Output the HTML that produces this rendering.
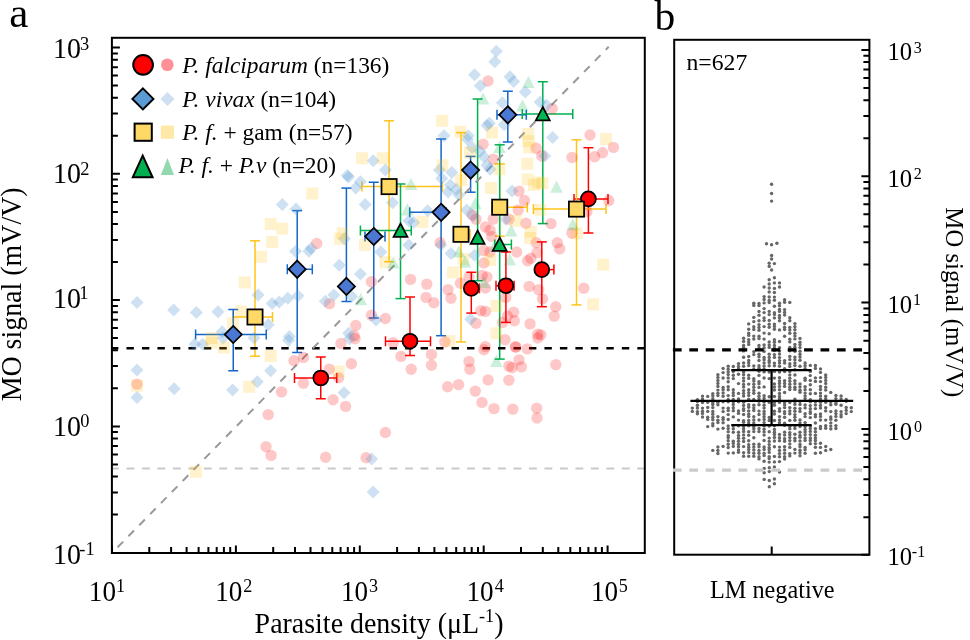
<!DOCTYPE html>
<html><head><meta charset="utf-8"><style>html,body{margin:0;padding:0;background:#fff;width:970px;height:640px;overflow:hidden}</style></head>
<body><svg width="970" height="640" viewBox="0 0 970 640" style="position:absolute;left:0;top:0;will-change:transform"><rect width="970" height="640" fill="#fff"/><defs><clipPath id="ca"><rect x="111.9" y="37.8" width="532.9" height="515.2"/></clipPath></defs><line x1="320.75" y1="357" x2="320.75" y2="398.75" stroke="#ff0000" stroke-width="1.5"/><line x1="315.75" y1="357" x2="325.75" y2="357" stroke="#ff0000" stroke-width="1.5"/><line x1="315.75" y1="398.75" x2="325.75" y2="398.75" stroke="#ff0000" stroke-width="1.5"/><line x1="294.5" y1="378" x2="336.75" y2="378" stroke="#ff0000" stroke-width="1.5"/><line x1="294.5" y1="373.0" x2="294.5" y2="383.0" stroke="#ff0000" stroke-width="1.5"/><line x1="336.75" y1="373.0" x2="336.75" y2="383.0" stroke="#ff0000" stroke-width="1.5"/><line x1="410" y1="297" x2="410" y2="355.5" stroke="#ff0000" stroke-width="1.5"/><line x1="405.0" y1="297" x2="415.0" y2="297" stroke="#ff0000" stroke-width="1.5"/><line x1="405.0" y1="355.5" x2="415.0" y2="355.5" stroke="#ff0000" stroke-width="1.5"/><line x1="385.5" y1="341.25" x2="430.5" y2="341.25" stroke="#ff0000" stroke-width="1.5"/><line x1="385.5" y1="336.25" x2="385.5" y2="346.25" stroke="#ff0000" stroke-width="1.5"/><line x1="430.5" y1="336.25" x2="430.5" y2="346.25" stroke="#ff0000" stroke-width="1.5"/><line x1="471.3" y1="272.3" x2="471.3" y2="313.1" stroke="#ff0000" stroke-width="1.5"/><line x1="466.3" y1="272.3" x2="476.3" y2="272.3" stroke="#ff0000" stroke-width="1.5"/><line x1="466.3" y1="313.1" x2="476.3" y2="313.1" stroke="#ff0000" stroke-width="1.5"/><line x1="467" y1="288.4" x2="479.4" y2="288.4" stroke="#ff0000" stroke-width="1.5"/><line x1="467" y1="283.4" x2="467" y2="293.4" stroke="#ff0000" stroke-width="1.5"/><line x1="479.4" y1="283.4" x2="479.4" y2="293.4" stroke="#ff0000" stroke-width="1.5"/><line x1="505.9" y1="252" x2="505.9" y2="322.4" stroke="#ff0000" stroke-width="1.5"/><line x1="500.9" y1="252" x2="510.9" y2="252" stroke="#ff0000" stroke-width="1.5"/><line x1="500.9" y1="322.4" x2="510.9" y2="322.4" stroke="#ff0000" stroke-width="1.5"/><line x1="496" y1="285.7" x2="514.1" y2="285.7" stroke="#ff0000" stroke-width="1.5"/><line x1="496" y1="280.7" x2="496" y2="290.7" stroke="#ff0000" stroke-width="1.5"/><line x1="514.1" y1="280.7" x2="514.1" y2="290.7" stroke="#ff0000" stroke-width="1.5"/><line x1="541.8" y1="241.9" x2="541.8" y2="306.7" stroke="#ff0000" stroke-width="1.5"/><line x1="536.8" y1="241.9" x2="546.8" y2="241.9" stroke="#ff0000" stroke-width="1.5"/><line x1="536.8" y1="306.7" x2="546.8" y2="306.7" stroke="#ff0000" stroke-width="1.5"/><line x1="537" y1="269.6" x2="553.9" y2="269.6" stroke="#ff0000" stroke-width="1.5"/><line x1="537" y1="264.6" x2="537" y2="274.6" stroke="#ff0000" stroke-width="1.5"/><line x1="553.9" y1="264.6" x2="553.9" y2="274.6" stroke="#ff0000" stroke-width="1.5"/><line x1="588.4" y1="147.7" x2="588.4" y2="233" stroke="#ff0000" stroke-width="1.5"/><line x1="583.4" y1="147.7" x2="593.4" y2="147.7" stroke="#ff0000" stroke-width="1.5"/><line x1="583.4" y1="233" x2="593.4" y2="233" stroke="#ff0000" stroke-width="1.5"/><line x1="574" y1="198.9" x2="608" y2="198.9" stroke="#ff0000" stroke-width="1.5"/><line x1="574" y1="193.9" x2="574" y2="203.9" stroke="#ff0000" stroke-width="1.5"/><line x1="608" y1="193.9" x2="608" y2="203.9" stroke="#ff0000" stroke-width="1.5"/><line x1="255" y1="240.8" x2="255" y2="356.25" stroke="#ffc31a" stroke-width="1.5"/><line x1="250.0" y1="240.8" x2="260.0" y2="240.8" stroke="#ffc31a" stroke-width="1.5"/><line x1="250.0" y1="356.25" x2="260.0" y2="356.25" stroke="#ffc31a" stroke-width="1.5"/><line x1="233.3" y1="317" x2="272.5" y2="317" stroke="#ffc31a" stroke-width="1.5"/><line x1="233.3" y1="312.0" x2="233.3" y2="322.0" stroke="#ffc31a" stroke-width="1.5"/><line x1="272.5" y1="312.0" x2="272.5" y2="322.0" stroke="#ffc31a" stroke-width="1.5"/><line x1="389.1" y1="120.8" x2="389.1" y2="261.75" stroke="#ffc31a" stroke-width="1.5"/><line x1="384.1" y1="120.8" x2="394.1" y2="120.8" stroke="#ffc31a" stroke-width="1.5"/><line x1="384.1" y1="261.75" x2="394.1" y2="261.75" stroke="#ffc31a" stroke-width="1.5"/><line x1="361.9" y1="186.6" x2="442.3" y2="186.6" stroke="#ffc31a" stroke-width="1.5"/><line x1="361.9" y1="181.6" x2="361.9" y2="191.6" stroke="#ffc31a" stroke-width="1.5"/><line x1="442.3" y1="181.6" x2="442.3" y2="191.6" stroke="#ffc31a" stroke-width="1.5"/><line x1="461" y1="132.6" x2="461" y2="341.9" stroke="#ffc31a" stroke-width="1.5"/><line x1="456.0" y1="132.6" x2="466.0" y2="132.6" stroke="#ffc31a" stroke-width="1.5"/><line x1="456.0" y1="341.9" x2="466.0" y2="341.9" stroke="#ffc31a" stroke-width="1.5"/><line x1="455" y1="234.25" x2="470" y2="234.25" stroke="#ffc31a" stroke-width="1.5"/><line x1="455" y1="229.25" x2="455" y2="239.25" stroke="#ffc31a" stroke-width="1.5"/><line x1="470" y1="229.25" x2="470" y2="239.25" stroke="#ffc31a" stroke-width="1.5"/><line x1="499.7" y1="163.9" x2="499.7" y2="236.2" stroke="#ffc31a" stroke-width="1.5"/><line x1="494.7" y1="163.9" x2="504.7" y2="163.9" stroke="#ffc31a" stroke-width="1.5"/><line x1="494.7" y1="236.2" x2="504.7" y2="236.2" stroke="#ffc31a" stroke-width="1.5"/><line x1="492" y1="207.2" x2="527.3" y2="207.2" stroke="#ffc31a" stroke-width="1.5"/><line x1="492" y1="202.2" x2="492" y2="212.2" stroke="#ffc31a" stroke-width="1.5"/><line x1="527.3" y1="202.2" x2="527.3" y2="212.2" stroke="#ffc31a" stroke-width="1.5"/><line x1="576.5" y1="139.8" x2="576.5" y2="304.9" stroke="#ffc31a" stroke-width="1.5"/><line x1="571.5" y1="139.8" x2="581.5" y2="139.8" stroke="#ffc31a" stroke-width="1.5"/><line x1="571.5" y1="304.9" x2="581.5" y2="304.9" stroke="#ffc31a" stroke-width="1.5"/><line x1="533.4" y1="209.1" x2="606" y2="209.1" stroke="#ffc31a" stroke-width="1.5"/><line x1="533.4" y1="204.1" x2="533.4" y2="214.1" stroke="#ffc31a" stroke-width="1.5"/><line x1="606" y1="204.1" x2="606" y2="214.1" stroke="#ffc31a" stroke-width="1.5"/><line x1="233.25" y1="309.5" x2="233.25" y2="370.75" stroke="#1466c8" stroke-width="1.5"/><line x1="228.25" y1="309.5" x2="238.25" y2="309.5" stroke="#1466c8" stroke-width="1.5"/><line x1="228.25" y1="370.75" x2="238.25" y2="370.75" stroke="#1466c8" stroke-width="1.5"/><line x1="195.6" y1="334.5" x2="266.25" y2="334.5" stroke="#1466c8" stroke-width="1.5"/><line x1="195.6" y1="329.5" x2="195.6" y2="339.5" stroke="#1466c8" stroke-width="1.5"/><line x1="266.25" y1="329.5" x2="266.25" y2="339.5" stroke="#1466c8" stroke-width="1.5"/><line x1="297.2" y1="210.6" x2="297.2" y2="352.5" stroke="#1466c8" stroke-width="1.5"/><line x1="292.2" y1="210.6" x2="302.2" y2="210.6" stroke="#1466c8" stroke-width="1.5"/><line x1="292.2" y1="352.5" x2="302.2" y2="352.5" stroke="#1466c8" stroke-width="1.5"/><line x1="287.3" y1="269.25" x2="312.3" y2="269.25" stroke="#1466c8" stroke-width="1.5"/><line x1="287.3" y1="264.25" x2="287.3" y2="274.25" stroke="#1466c8" stroke-width="1.5"/><line x1="312.3" y1="264.25" x2="312.3" y2="274.25" stroke="#1466c8" stroke-width="1.5"/><line x1="346.4" y1="188.1" x2="346.4" y2="301.5" stroke="#1466c8" stroke-width="1.5"/><line x1="341.4" y1="188.1" x2="351.4" y2="188.1" stroke="#1466c8" stroke-width="1.5"/><line x1="341.4" y1="301.5" x2="351.4" y2="301.5" stroke="#1466c8" stroke-width="1.5"/><line x1="373.75" y1="182.25" x2="373.75" y2="318" stroke="#1466c8" stroke-width="1.5"/><line x1="368.75" y1="182.25" x2="378.75" y2="182.25" stroke="#1466c8" stroke-width="1.5"/><line x1="368.75" y1="318" x2="378.75" y2="318" stroke="#1466c8" stroke-width="1.5"/><line x1="365" y1="236.5" x2="385" y2="236.5" stroke="#1466c8" stroke-width="1.5"/><line x1="365" y1="231.5" x2="365" y2="241.5" stroke="#1466c8" stroke-width="1.5"/><line x1="385" y1="231.5" x2="385" y2="241.5" stroke="#1466c8" stroke-width="1.5"/><line x1="441.1" y1="139" x2="441.1" y2="335.7" stroke="#1466c8" stroke-width="1.5"/><line x1="436.1" y1="139" x2="446.1" y2="139" stroke="#1466c8" stroke-width="1.5"/><line x1="436.1" y1="335.7" x2="446.1" y2="335.7" stroke="#1466c8" stroke-width="1.5"/><line x1="409.7" y1="212.3" x2="446" y2="212.3" stroke="#1466c8" stroke-width="1.5"/><line x1="409.7" y1="207.3" x2="409.7" y2="217.3" stroke="#1466c8" stroke-width="1.5"/><line x1="446" y1="207.3" x2="446" y2="217.3" stroke="#1466c8" stroke-width="1.5"/><line x1="470.6" y1="156.4" x2="470.6" y2="192.2" stroke="#1466c8" stroke-width="1.5"/><line x1="465.6" y1="156.4" x2="475.6" y2="156.4" stroke="#1466c8" stroke-width="1.5"/><line x1="465.6" y1="192.2" x2="475.6" y2="192.2" stroke="#1466c8" stroke-width="1.5"/><line x1="507.8" y1="91.2" x2="507.8" y2="142" stroke="#1466c8" stroke-width="1.5"/><line x1="502.8" y1="91.2" x2="512.8" y2="91.2" stroke="#1466c8" stroke-width="1.5"/><line x1="502.8" y1="142" x2="512.8" y2="142" stroke="#1466c8" stroke-width="1.5"/><line x1="497" y1="114.8" x2="526.3" y2="114.8" stroke="#1466c8" stroke-width="1.5"/><line x1="497" y1="109.8" x2="497" y2="119.8" stroke="#1466c8" stroke-width="1.5"/><line x1="526.3" y1="109.8" x2="526.3" y2="119.8" stroke="#1466c8" stroke-width="1.5"/><line x1="400.5" y1="184" x2="400.5" y2="298.6" stroke="#00b050" stroke-width="1.5"/><line x1="395.5" y1="184" x2="405.5" y2="184" stroke="#00b050" stroke-width="1.5"/><line x1="395.5" y1="298.6" x2="405.5" y2="298.6" stroke="#00b050" stroke-width="1.5"/><line x1="360.4" y1="230.5" x2="411.25" y2="230.5" stroke="#00b050" stroke-width="1.5"/><line x1="360.4" y1="225.5" x2="360.4" y2="235.5" stroke="#00b050" stroke-width="1.5"/><line x1="411.25" y1="225.5" x2="411.25" y2="235.5" stroke="#00b050" stroke-width="1.5"/><line x1="477.6" y1="99" x2="477.6" y2="280.7" stroke="#00b050" stroke-width="1.5"/><line x1="472.6" y1="99" x2="482.6" y2="99" stroke="#00b050" stroke-width="1.5"/><line x1="472.6" y1="280.7" x2="482.6" y2="280.7" stroke="#00b050" stroke-width="1.5"/><line x1="499.7" y1="144.8" x2="499.7" y2="359.1" stroke="#00b050" stroke-width="1.5"/><line x1="494.7" y1="144.8" x2="504.7" y2="144.8" stroke="#00b050" stroke-width="1.5"/><line x1="494.7" y1="359.1" x2="504.7" y2="359.1" stroke="#00b050" stroke-width="1.5"/><line x1="494.8" y1="244.5" x2="511.4" y2="244.5" stroke="#00b050" stroke-width="1.5"/><line x1="494.8" y1="239.5" x2="494.8" y2="249.5" stroke="#00b050" stroke-width="1.5"/><line x1="511.4" y1="239.5" x2="511.4" y2="249.5" stroke="#00b050" stroke-width="1.5"/><line x1="542.8" y1="81.75" x2="542.8" y2="223.6" stroke="#00b050" stroke-width="1.5"/><line x1="537.8" y1="81.75" x2="547.8" y2="81.75" stroke="#00b050" stroke-width="1.5"/><line x1="537.8" y1="223.6" x2="547.8" y2="223.6" stroke="#00b050" stroke-width="1.5"/><line x1="522.25" y1="114.0" x2="572.75" y2="114.0" stroke="#00b050" stroke-width="1.5"/><line x1="522.25" y1="109.0" x2="522.25" y2="119.0" stroke="#00b050" stroke-width="1.5"/><line x1="572.75" y1="109.0" x2="572.75" y2="119.0" stroke="#00b050" stroke-width="1.5"/><line x1="111.0" y1="468.6" x2="644.8" y2="468.6" stroke="#c9c9c9" stroke-width="2" stroke-dasharray="7.9 7.58"/><line x1="111.0" y1="348.2" x2="644.8" y2="348.2" stroke="#000" stroke-width="2.4" stroke-dasharray="7.4 8.08"/><line x1="111.9" y1="553.1" x2="608.7" y2="46.8" stroke="#999" stroke-width="2" stroke-dasharray="8 7.49" stroke-dashoffset="7.39"/><g clip-path="url(#ca)"><circle cx="488.1" cy="81.0" r="5.7" fill="rgba(255,0,0,0.215)"/><circle cx="552.2" cy="108.6" r="5.7" fill="rgba(255,0,0,0.215)"/><circle cx="590.0" cy="135.0" r="5.7" fill="rgba(255,0,0,0.215)"/><circle cx="483.1" cy="144.2" r="5.7" fill="rgba(255,0,0,0.215)"/><circle cx="493.2" cy="159.1" r="5.7" fill="rgba(255,0,0,0.215)"/><circle cx="536.2" cy="148.2" r="5.7" fill="rgba(255,0,0,0.215)"/><circle cx="541.7" cy="156.0" r="5.7" fill="rgba(255,0,0,0.215)"/><circle cx="519.0" cy="191.1" r="5.7" fill="rgba(255,0,0,0.215)"/><circle cx="524.5" cy="200.5" r="5.7" fill="rgba(255,0,0,0.215)"/><circle cx="518.2" cy="209.9" r="5.7" fill="rgba(255,0,0,0.215)"/><circle cx="472.2" cy="214.6" r="5.7" fill="rgba(255,0,0,0.215)"/><circle cx="476.0" cy="219.2" r="5.7" fill="rgba(255,0,0,0.215)"/><circle cx="493.2" cy="219.2" r="5.7" fill="rgba(255,0,0,0.215)"/><circle cx="508.9" cy="219.2" r="5.7" fill="rgba(255,0,0,0.215)"/><circle cx="526.0" cy="223.2" r="5.7" fill="rgba(255,0,0,0.215)"/><circle cx="551.0" cy="223.6" r="5.7" fill="rgba(255,0,0,0.215)"/><circle cx="485.4" cy="227.0" r="5.7" fill="rgba(255,0,0,0.215)"/><circle cx="490.1" cy="230.2" r="5.7" fill="rgba(255,0,0,0.215)"/><circle cx="491.7" cy="236.4" r="5.7" fill="rgba(255,0,0,0.215)"/><circle cx="572.0" cy="157.5" r="5.7" fill="rgba(255,0,0,0.215)"/><circle cx="594.7" cy="156.8" r="5.7" fill="rgba(255,0,0,0.215)"/><circle cx="602.5" cy="152.8" r="5.7" fill="rgba(255,0,0,0.215)"/><circle cx="613.4" cy="147.4" r="5.7" fill="rgba(255,0,0,0.215)"/><circle cx="608.8" cy="200.5" r="5.7" fill="rgba(255,0,0,0.215)"/><circle cx="572.0" cy="233.3" r="5.7" fill="rgba(255,0,0,0.215)"/><circle cx="586.9" cy="211.4" r="5.7" fill="rgba(255,0,0,0.215)"/><circle cx="316.7" cy="243.5" r="5.7" fill="rgba(255,0,0,0.215)"/><circle cx="371.4" cy="281.8" r="5.7" fill="rgba(255,0,0,0.215)"/><circle cx="410.5" cy="279.4" r="5.7" fill="rgba(255,0,0,0.215)"/><circle cx="329.5" cy="303.6" r="5.7" fill="rgba(255,0,0,0.215)"/><circle cx="371.4" cy="315.3" r="5.7" fill="rgba(255,0,0,0.215)"/><circle cx="385.4" cy="318.5" r="5.7" fill="rgba(255,0,0,0.215)"/><circle cx="355.8" cy="325.5" r="5.7" fill="rgba(255,0,0,0.215)"/><circle cx="354.2" cy="335.7" r="5.7" fill="rgba(255,0,0,0.215)"/><circle cx="440.1" cy="242.7" r="5.7" fill="rgba(255,0,0,0.215)"/><circle cx="426.8" cy="284.1" r="5.7" fill="rgba(255,0,0,0.215)"/><circle cx="426.0" cy="297.4" r="5.7" fill="rgba(255,0,0,0.215)"/><circle cx="433.9" cy="302.8" r="5.7" fill="rgba(255,0,0,0.215)"/><circle cx="448.0" cy="289.6" r="5.7" fill="rgba(255,0,0,0.215)"/><circle cx="451.0" cy="298.2" r="5.7" fill="rgba(255,0,0,0.215)"/><circle cx="460.4" cy="283.3" r="5.7" fill="rgba(255,0,0,0.215)"/><circle cx="469.0" cy="277.0" r="5.7" fill="rgba(255,0,0,0.215)"/><circle cx="482.3" cy="275.5" r="5.7" fill="rgba(255,0,0,0.215)"/><circle cx="487.0" cy="277.0" r="5.7" fill="rgba(255,0,0,0.215)"/><circle cx="483.9" cy="263.0" r="5.7" fill="rgba(255,0,0,0.215)"/><circle cx="485.4" cy="288.0" r="5.7" fill="rgba(255,0,0,0.215)"/><circle cx="480.8" cy="310.7" r="5.7" fill="rgba(255,0,0,0.215)"/><circle cx="485.4" cy="311.4" r="5.7" fill="rgba(255,0,0,0.215)"/><circle cx="476.0" cy="323.2" r="5.7" fill="rgba(255,0,0,0.215)"/><circle cx="483.9" cy="250.5" r="5.7" fill="rgba(255,0,0,0.215)"/><circle cx="490.0" cy="252.0" r="5.7" fill="rgba(255,0,0,0.215)"/><circle cx="505.8" cy="297.4" r="5.7" fill="rgba(255,0,0,0.215)"/><circle cx="507.3" cy="316.1" r="5.7" fill="rgba(255,0,0,0.215)"/><circle cx="513.6" cy="312.2" r="5.7" fill="rgba(255,0,0,0.215)"/><circle cx="514.3" cy="320.8" r="5.7" fill="rgba(255,0,0,0.215)"/><circle cx="502.6" cy="322.4" r="5.7" fill="rgba(255,0,0,0.215)"/><circle cx="516.7" cy="252.0" r="5.7" fill="rgba(255,0,0,0.215)"/><circle cx="527.6" cy="260.7" r="5.7" fill="rgba(255,0,0,0.215)"/><circle cx="530.8" cy="258.3" r="5.7" fill="rgba(255,0,0,0.215)"/><circle cx="537.0" cy="252.8" r="5.7" fill="rgba(255,0,0,0.215)"/><circle cx="536.2" cy="242.7" r="5.7" fill="rgba(255,0,0,0.215)"/><circle cx="529.2" cy="286.4" r="5.7" fill="rgba(255,0,0,0.215)"/><circle cx="538.6" cy="289.6" r="5.7" fill="rgba(255,0,0,0.215)"/><circle cx="542.5" cy="298.9" r="5.7" fill="rgba(255,0,0,0.215)"/><circle cx="530.0" cy="323.9" r="5.7" fill="rgba(255,0,0,0.215)"/><circle cx="537.8" cy="334.1" r="5.7" fill="rgba(255,0,0,0.215)"/><circle cx="555.8" cy="306.8" r="5.7" fill="rgba(255,0,0,0.215)"/><circle cx="554.2" cy="316.1" r="5.7" fill="rgba(255,0,0,0.215)"/><circle cx="557.3" cy="242.7" r="5.7" fill="rgba(255,0,0,0.215)"/><circle cx="559.7" cy="248.9" r="5.7" fill="rgba(255,0,0,0.215)"/><circle cx="583.8" cy="288.3" r="5.7" fill="rgba(255,0,0,0.215)"/><circle cx="540.8" cy="334.9" r="5.7" fill="rgba(255,0,0,0.215)"/><circle cx="137.0" cy="384.1" r="5.7" fill="rgba(255,0,0,0.215)"/><circle cx="340.9" cy="343.5" r="5.7" fill="rgba(255,0,0,0.215)"/><circle cx="355.0" cy="338.8" r="5.7" fill="rgba(255,0,0,0.215)"/><circle cx="294.0" cy="360.7" r="5.7" fill="rgba(255,0,0,0.215)"/><circle cx="303.4" cy="357.5" r="5.7" fill="rgba(255,0,0,0.215)"/><circle cx="329.2" cy="369.2" r="5.7" fill="rgba(255,0,0,0.215)"/><circle cx="351.4" cy="363.8" r="5.7" fill="rgba(255,0,0,0.215)"/><circle cx="303.4" cy="383.3" r="5.7" fill="rgba(255,0,0,0.215)"/><circle cx="281.5" cy="391.9" r="5.7" fill="rgba(255,0,0,0.215)"/><circle cx="333.1" cy="399.7" r="5.7" fill="rgba(255,0,0,0.215)"/><circle cx="345.6" cy="406.4" r="5.7" fill="rgba(255,0,0,0.215)"/><circle cx="338.6" cy="377.8" r="5.7" fill="rgba(255,0,0,0.215)"/><circle cx="268.2" cy="414.6" r="5.7" fill="rgba(255,0,0,0.215)"/><circle cx="385.4" cy="432.5" r="5.7" fill="rgba(255,0,0,0.215)"/><circle cx="393.2" cy="342.7" r="5.7" fill="rgba(255,0,0,0.215)"/><circle cx="401.0" cy="356.4" r="5.7" fill="rgba(255,0,0,0.215)"/><circle cx="411.2" cy="369.2" r="5.7" fill="rgba(255,0,0,0.215)"/><circle cx="444.8" cy="341.9" r="5.7" fill="rgba(255,0,0,0.215)"/><circle cx="431.5" cy="354.4" r="5.7" fill="rgba(255,0,0,0.215)"/><circle cx="431.5" cy="365.3" r="5.7" fill="rgba(255,0,0,0.215)"/><circle cx="469.0" cy="361.4" r="5.7" fill="rgba(255,0,0,0.215)"/><circle cx="469.8" cy="369.2" r="5.7" fill="rgba(255,0,0,0.215)"/><circle cx="485.4" cy="346.6" r="5.7" fill="rgba(255,0,0,0.215)"/><circle cx="483.9" cy="349.7" r="5.7" fill="rgba(255,0,0,0.215)"/><circle cx="488.1" cy="379.9" r="5.7" fill="rgba(255,0,0,0.215)"/><circle cx="447.6" cy="386.8" r="5.7" fill="rgba(255,0,0,0.215)"/><circle cx="458.6" cy="384.6" r="5.7" fill="rgba(255,0,0,0.215)"/><circle cx="475.3" cy="391.1" r="5.7" fill="rgba(255,0,0,0.215)"/><circle cx="482.0" cy="402.4" r="5.7" fill="rgba(255,0,0,0.215)"/><circle cx="494.0" cy="408.6" r="5.7" fill="rgba(255,0,0,0.215)"/><circle cx="512.8" cy="409.1" r="5.7" fill="rgba(255,0,0,0.215)"/><circle cx="536.7" cy="408.3" r="5.7" fill="rgba(255,0,0,0.215)"/><circle cx="537.0" cy="418.0" r="5.7" fill="rgba(255,0,0,0.215)"/><circle cx="508.9" cy="380.2" r="5.7" fill="rgba(255,0,0,0.215)"/><circle cx="508.9" cy="366.1" r="5.7" fill="rgba(255,0,0,0.215)"/><circle cx="512.0" cy="367.7" r="5.7" fill="rgba(255,0,0,0.215)"/><circle cx="519.0" cy="359.9" r="5.7" fill="rgba(255,0,0,0.215)"/><circle cx="521.4" cy="366.9" r="5.7" fill="rgba(255,0,0,0.215)"/><circle cx="515.4" cy="346.6" r="5.7" fill="rgba(255,0,0,0.215)"/><circle cx="527.3" cy="348.9" r="5.7" fill="rgba(255,0,0,0.215)"/><circle cx="555.8" cy="364.6" r="5.7" fill="rgba(255,0,0,0.215)"/><circle cx="505.0" cy="339.6" r="5.7" fill="rgba(255,0,0,0.215)"/><circle cx="537.8" cy="338.0" r="5.7" fill="rgba(255,0,0,0.215)"/><circle cx="266.0" cy="446.8" r="5.7" fill="rgba(255,0,0,0.215)"/><circle cx="271.1" cy="455.4" r="5.7" fill="rgba(255,0,0,0.215)"/><circle cx="325.6" cy="457.2" r="5.7" fill="rgba(255,0,0,0.215)"/><circle cx="366.1" cy="457.7" r="5.7" fill="rgba(255,0,0,0.215)"/><circle cx="515.8" cy="347.2" r="5.7" fill="rgba(255,0,0,0.215)"/><path d="M496.4 44.8L502.9 51.3L496.4 57.8L489.9 51.3Z" fill="rgba(91,155,213,0.3)"/><path d="M494.8 55.2L501.3 61.8L494.8 68.2L488.3 61.8Z" fill="rgba(91,155,213,0.3)"/><path d="M474.5 68.2L481.0 74.7L474.5 81.2L468.0 74.7Z" fill="rgba(91,155,213,0.3)"/><path d="M480.3 79.2L486.8 85.7L480.3 92.2L473.8 85.7Z" fill="rgba(91,155,213,0.3)"/><path d="M510.0 70.2L516.5 76.8L510.0 83.2L503.5 76.8Z" fill="rgba(91,155,213,0.3)"/><path d="M513.6 74.9L520.1 81.4L513.6 87.9L507.1 81.4Z" fill="rgba(91,155,213,0.3)"/><path d="M525.3 85.4L531.8 91.9L525.3 98.4L518.8 91.9Z" fill="rgba(91,155,213,0.3)"/><path d="M502.3 96.3L508.8 102.8L502.3 109.3L495.8 102.8Z" fill="rgba(91,155,213,0.3)"/><path d="M540.1 95.5L546.6 102.0L540.1 108.5L533.6 102.0Z" fill="rgba(91,155,213,0.3)"/><path d="M546.7 98.7L553.2 105.2L546.7 111.7L540.2 105.2Z" fill="rgba(91,155,213,0.3)"/><path d="M487.0 119.0L493.5 125.5L487.0 132.0L480.5 125.5Z" fill="rgba(91,155,213,0.3)"/><path d="M489.3 116.7L495.8 123.2L489.3 129.7L482.8 123.2Z" fill="rgba(91,155,213,0.3)"/><path d="M504.2 118.2L510.7 124.7L504.2 131.2L497.7 124.7Z" fill="rgba(91,155,213,0.3)"/><path d="M444.0 129.2L450.5 135.7L444.0 142.2L437.5 135.7Z" fill="rgba(91,155,213,0.3)"/><path d="M468.2 129.2L474.8 135.7L468.2 142.2L461.8 135.7Z" fill="rgba(91,155,213,0.3)"/><path d="M552.6 131.0L559.1 137.5L552.6 144.0L546.1 137.5Z" fill="rgba(91,155,213,0.3)"/><path d="M373.2 154.2L379.8 160.7L373.2 167.2L366.8 160.7Z" fill="rgba(91,155,213,0.3)"/><path d="M385.4 163.5L391.9 170.0L385.4 176.5L378.9 170.0Z" fill="rgba(91,155,213,0.3)"/><path d="M347.2 169.0L353.7 175.5L347.2 182.0L340.7 175.5Z" fill="rgba(91,155,213,0.3)"/><path d="M360.4 175.2L366.9 181.8L360.4 188.2L353.9 181.8Z" fill="rgba(91,155,213,0.3)"/><path d="M355.8 181.5L362.2 188.0L355.8 194.5L349.2 188.0Z" fill="rgba(91,155,213,0.3)"/><path d="M282.3 197.9L288.8 204.4L282.3 210.9L275.8 204.4Z" fill="rgba(91,155,213,0.3)"/><path d="M296.0 202.5L302.5 209.0L296.0 215.5L289.5 209.0Z" fill="rgba(91,155,213,0.3)"/><path d="M365.1 197.9L371.6 204.4L365.1 210.9L358.6 204.4Z" fill="rgba(91,155,213,0.3)"/><path d="M392.5 196.3L399.0 202.8L392.5 209.3L386.0 202.8Z" fill="rgba(91,155,213,0.3)"/><path d="M408.9 214.3L415.4 220.8L408.9 227.3L402.4 220.8Z" fill="rgba(91,155,213,0.3)"/><path d="M344.4 232.2L350.9 238.8L344.4 245.2L337.9 238.8Z" fill="rgba(91,155,213,0.3)"/><path d="M408.8 238.5L415.2 245.0L408.8 251.5L402.2 245.0Z" fill="rgba(91,155,213,0.3)"/><path d="M467.5 133.1L474.0 139.6L467.5 146.1L461.0 139.6Z" fill="rgba(91,155,213,0.3)"/><path d="M472.2 140.9L478.7 147.4L472.2 153.9L465.7 147.4Z" fill="rgba(91,155,213,0.3)"/><path d="M480.0 144.8L486.5 151.3L480.0 157.8L473.5 151.3Z" fill="rgba(91,155,213,0.3)"/><path d="M483.9 150.2L490.4 156.8L483.9 163.2L477.4 156.8Z" fill="rgba(91,155,213,0.3)"/><path d="M439.3 163.5L445.8 170.0L439.3 176.5L432.8 170.0Z" fill="rgba(91,155,213,0.3)"/><path d="M451.8 165.9L458.3 172.4L451.8 178.9L445.3 172.4Z" fill="rgba(91,155,213,0.3)"/><path d="M441.7 172.1L448.2 178.6L441.7 185.1L435.2 178.6Z" fill="rgba(91,155,213,0.3)"/><path d="M450.3 178.4L456.8 184.9L450.3 191.4L443.8 184.9Z" fill="rgba(91,155,213,0.3)"/><path d="M456.5 183.1L463.0 189.6L456.5 196.1L450.0 189.6Z" fill="rgba(91,155,213,0.3)"/><path d="M448.0 185.4L454.5 191.9L448.0 198.4L441.5 191.9Z" fill="rgba(91,155,213,0.3)"/><path d="M458.9 188.5L465.4 195.0L458.9 201.5L452.4 195.0Z" fill="rgba(91,155,213,0.3)"/><path d="M487.0 158.8L493.5 165.3L487.0 171.8L480.5 165.3Z" fill="rgba(91,155,213,0.3)"/><path d="M490.1 162.8L496.6 169.2L490.1 175.8L483.6 169.2Z" fill="rgba(91,155,213,0.3)"/><path d="M512.0 184.6L518.5 191.1L512.0 197.6L505.5 191.1Z" fill="rgba(91,155,213,0.3)"/><path d="M544.8 149.5L551.3 156.0L544.8 162.5L538.3 156.0Z" fill="rgba(91,155,213,0.3)"/><path d="M427.6 204.2L434.1 210.7L427.6 217.2L421.1 210.7Z" fill="rgba(91,155,213,0.3)"/><path d="M466.7 203.4L473.2 209.9L466.7 216.4L460.2 209.9Z" fill="rgba(91,155,213,0.3)"/><path d="M472.9 209.6L479.4 216.1L472.9 222.6L466.4 216.1Z" fill="rgba(91,155,213,0.3)"/><path d="M413.6 215.9L420.1 222.4L413.6 228.9L407.1 222.4Z" fill="rgba(91,155,213,0.3)"/><path d="M505.8 212.8L512.2 219.2L505.8 225.8L499.2 219.2Z" fill="rgba(91,155,213,0.3)"/><path d="M137.0 295.9L143.5 302.4L137.0 308.9L130.5 302.4Z" fill="rgba(91,155,213,0.3)"/><path d="M173.7 303.4L180.2 309.9L173.7 316.4L167.2 309.9Z" fill="rgba(91,155,213,0.3)"/><path d="M196.4 306.0L202.9 312.5L196.4 319.0L189.9 312.5Z" fill="rgba(91,155,213,0.3)"/><path d="M218.0 305.2L224.5 311.8L218.0 318.2L211.5 311.8Z" fill="rgba(91,155,213,0.3)"/><path d="M258.1 288.5L264.6 295.0L258.1 301.5L251.6 295.0Z" fill="rgba(91,155,213,0.3)"/><path d="M222.2 325.2L228.7 331.8L222.2 338.2L215.7 331.8Z" fill="rgba(91,155,213,0.3)"/><path d="M295.6 244.8L302.1 251.3L295.6 257.8L289.1 251.3Z" fill="rgba(91,155,213,0.3)"/><path d="M308.9 244.8L315.4 251.3L308.9 257.8L302.4 251.3Z" fill="rgba(91,155,213,0.3)"/><path d="M311.2 241.7L317.7 248.2L311.2 254.7L304.7 248.2Z" fill="rgba(91,155,213,0.3)"/><path d="M339.3 258.8L345.8 265.3L339.3 271.8L332.8 265.3Z" fill="rgba(91,155,213,0.3)"/><path d="M360.4 267.4L366.9 273.9L360.4 280.4L353.9 273.9Z" fill="rgba(91,155,213,0.3)"/><path d="M380.8 245.5L387.2 252.0L380.8 258.5L374.2 252.0Z" fill="rgba(91,155,213,0.3)"/><path d="M333.9 288.5L340.4 295.0L333.9 301.5L327.4 295.0Z" fill="rgba(91,155,213,0.3)"/><path d="M325.3 294.8L331.8 301.3L325.3 307.8L318.8 301.3Z" fill="rgba(91,155,213,0.3)"/><path d="M351.8 290.1L358.3 296.6L351.8 303.1L345.3 296.6Z" fill="rgba(91,155,213,0.3)"/><path d="M298.0 289.3L304.5 295.8L298.0 302.3L291.5 295.8Z" fill="rgba(91,155,213,0.3)"/><path d="M287.8 291.7L294.3 298.2L287.8 304.7L281.3 298.2Z" fill="rgba(91,155,213,0.3)"/><path d="M279.2 295.5L285.7 302.0L279.2 308.5L272.7 302.0Z" fill="rgba(91,155,213,0.3)"/><path d="M272.2 297.1L278.7 303.6L272.2 310.1L265.7 303.6Z" fill="rgba(91,155,213,0.3)"/><path d="M268.2 318.2L274.8 324.7L268.2 331.2L261.8 324.7Z" fill="rgba(91,155,213,0.3)"/><path d="M376.0 313.5L382.5 320.0L376.0 326.5L369.5 320.0Z" fill="rgba(91,155,213,0.3)"/><path d="M348.7 326.8L355.2 333.3L348.7 339.8L342.2 333.3Z" fill="rgba(91,155,213,0.3)"/><path d="M289.3 329.9L295.8 336.4L289.3 342.9L282.8 336.4Z" fill="rgba(91,155,213,0.3)"/><path d="M440.9 238.5L447.4 245.0L440.9 251.5L434.4 245.0Z" fill="rgba(91,155,213,0.3)"/><path d="M451.0 247.1L457.5 253.6L451.0 260.1L444.5 253.6Z" fill="rgba(91,155,213,0.3)"/><path d="M474.5 248.7L481.0 255.2L474.5 261.7L468.0 255.2Z" fill="rgba(91,155,213,0.3)"/><path d="M470.6 312.8L477.1 319.2L470.6 325.8L464.1 319.2Z" fill="rgba(91,155,213,0.3)"/><path d="M137.0 363.5L143.5 370.0L137.0 376.5L130.5 370.0Z" fill="rgba(91,155,213,0.3)"/><path d="M137.0 390.9L143.5 397.4L137.0 403.9L130.5 397.4Z" fill="rgba(91,155,213,0.3)"/><path d="M174.2 382.3L180.7 388.8L174.2 395.3L167.7 388.8Z" fill="rgba(91,155,213,0.3)"/><path d="M232.6 383.4L239.1 389.9L232.6 396.4L226.1 389.9Z" fill="rgba(91,155,213,0.3)"/><path d="M257.3 375.2L263.8 381.8L257.3 388.2L250.8 381.8Z" fill="rgba(91,155,213,0.3)"/><path d="M194.8 337.8L201.3 344.2L194.8 350.8L188.3 344.2Z" fill="rgba(91,155,213,0.3)"/><path d="M202.6 337.8L209.1 344.2L202.6 350.8L196.1 344.2Z" fill="rgba(91,155,213,0.3)"/><path d="M223.0 331.5L229.5 338.0L223.0 344.5L216.5 338.0Z" fill="rgba(91,155,213,0.3)"/><path d="M254.0 331.5L260.5 338.0L254.0 344.5L247.5 338.0Z" fill="rgba(91,155,213,0.3)"/><path d="M288.6 333.8L295.1 340.3L288.6 346.8L282.1 340.3Z" fill="rgba(91,155,213,0.3)"/><path d="M270.6 364.3L277.1 370.8L270.6 377.3L264.1 370.8Z" fill="rgba(91,155,213,0.3)"/><path d="M344.0 386.2L350.5 392.7L344.0 399.2L337.5 392.7Z" fill="rgba(91,155,213,0.3)"/><path d="M349.5 332.3L356.0 338.8L349.5 345.3L343.0 338.8Z" fill="rgba(91,155,213,0.3)"/><path d="M371.6 452.5L378.1 459.0L371.6 465.5L365.1 459.0Z" fill="rgba(91,155,213,0.3)"/><path d="M373.1 485.4L379.6 491.9L373.1 498.4L366.6 491.9Z" fill="rgba(91,155,213,0.3)"/><path d="M348.5 170.5L355.0 177.0L348.5 183.5L342.0 177.0Z" fill="rgba(91,155,213,0.3)"/><rect x="436.2" y="114.8" width="12" height="12" fill="rgba(255,192,0,0.2)"/><rect x="454.4" y="125.8" width="12" height="12" fill="rgba(255,192,0,0.2)"/><rect x="486.0" y="126.5" width="12" height="12" fill="rgba(255,192,0,0.2)"/><rect x="522.0" y="128.0" width="12" height="12" fill="rgba(255,192,0,0.2)"/><rect x="600.0" y="133.0" width="12" height="12" fill="rgba(255,192,0,0.2)"/><rect x="356.0" y="152.3" width="12" height="12" fill="rgba(255,192,0,0.2)"/><rect x="376.8" y="152.3" width="12" height="12" fill="rgba(255,192,0,0.2)"/><rect x="306.3" y="187.5" width="12" height="12" fill="rgba(255,192,0,0.2)"/><rect x="264.6" y="218.0" width="12" height="12" fill="rgba(255,192,0,0.2)"/><rect x="276.3" y="222.6" width="12" height="12" fill="rgba(255,192,0,0.2)"/><rect x="336.5" y="227.3" width="12" height="12" fill="rgba(255,192,0,0.2)"/><rect x="359.0" y="239.0" width="12" height="12" fill="rgba(255,192,0,0.2)"/><rect x="416.5" y="215.9" width="12" height="12" fill="rgba(255,192,0,0.2)"/><rect x="436.5" y="159.3" width="12" height="12" fill="rgba(255,192,0,0.2)"/><rect x="522.4" y="135.1" width="12" height="12" fill="rgba(255,192,0,0.2)"/><rect x="523.2" y="141.4" width="12" height="12" fill="rgba(255,192,0,0.2)"/><rect x="493.5" y="163.2" width="12" height="12" fill="rgba(255,192,0,0.2)"/><rect x="521.3" y="157.8" width="12" height="12" fill="rgba(255,192,0,0.2)"/><rect x="521.6" y="173.4" width="12" height="12" fill="rgba(255,192,0,0.2)"/><rect x="527.9" y="178.9" width="12" height="12" fill="rgba(255,192,0,0.2)"/><rect x="532.6" y="176.5" width="12" height="12" fill="rgba(255,192,0,0.2)"/><rect x="484.9" y="182.0" width="12" height="12" fill="rgba(255,192,0,0.2)"/><rect x="455.2" y="174.2" width="12" height="12" fill="rgba(255,192,0,0.2)"/><rect x="534.1" y="203.9" width="12" height="12" fill="rgba(255,192,0,0.2)"/><rect x="509.9" y="214.8" width="12" height="12" fill="rgba(255,192,0,0.2)"/><rect x="524.8" y="225.8" width="12" height="12" fill="rgba(255,192,0,0.2)"/><rect x="536.3" y="177.3" width="12" height="12" fill="rgba(255,192,0,0.2)"/><rect x="570.7" y="227.3" width="12" height="12" fill="rgba(255,192,0,0.2)"/><rect x="238.8" y="276.5" width="12" height="12" fill="rgba(255,192,0,0.2)"/><rect x="234.9" y="305.4" width="12" height="12" fill="rgba(255,192,0,0.2)"/><rect x="227.1" y="317.2" width="12" height="12" fill="rgba(255,192,0,0.2)"/><rect x="206.0" y="332.0" width="12" height="12" fill="rgba(255,192,0,0.2)"/><rect x="266.2" y="235.9" width="12" height="12" fill="rgba(255,192,0,0.2)"/><rect x="255.0" y="250.8" width="12" height="12" fill="rgba(255,192,0,0.2)"/><rect x="379.4" y="256.2" width="12" height="12" fill="rgba(255,192,0,0.2)"/><rect x="334.0" y="232.8" width="12" height="12" fill="rgba(255,192,0,0.2)"/><rect x="446.9" y="266.4" width="12" height="12" fill="rgba(255,192,0,0.2)"/><rect x="457.6" y="253.1" width="12" height="12" fill="rgba(255,192,0,0.2)"/><rect x="484.1" y="253.9" width="12" height="12" fill="rgba(255,192,0,0.2)"/><rect x="490.4" y="300.0" width="12" height="12" fill="rgba(255,192,0,0.2)"/><rect x="490.4" y="327.3" width="12" height="12" fill="rgba(255,192,0,0.2)"/><rect x="524.0" y="232.0" width="12" height="12" fill="rgba(255,192,0,0.2)"/><rect x="597.3" y="258.6" width="12" height="12" fill="rgba(255,192,0,0.2)"/><rect x="587.1" y="298.4" width="12" height="12" fill="rgba(255,192,0,0.2)"/><rect x="205.2" y="336.7" width="12" height="12" fill="rgba(255,192,0,0.2)"/><rect x="217.7" y="341.4" width="12" height="12" fill="rgba(255,192,0,0.2)"/><rect x="243.2" y="380.8" width="12" height="12" fill="rgba(255,192,0,0.2)"/><rect x="131.0" y="379.7" width="12" height="12" fill="rgba(255,192,0,0.2)"/><rect x="264.6" y="350.0" width="12" height="12" fill="rgba(255,192,0,0.2)"/><rect x="332.6" y="365.6" width="12" height="12" fill="rgba(255,192,0,0.2)"/><rect x="443.5" y="335.1" width="12" height="12" fill="rgba(255,192,0,0.2)"/><rect x="190.0" y="465.8" width="12" height="12" fill="rgba(255,192,0,0.2)"/><rect x="464.0" y="146.5" width="12" height="12" fill="rgba(255,192,0,0.2)"/><path d="M528.4 75.7L534.7 88.1L522.1 88.1Z" fill="rgba(0,176,80,0.2)"/><path d="M483.1 92.2L489.4 104.6L476.8 104.6Z" fill="rgba(0,176,80,0.2)"/><path d="M522.5 99.2L528.8 111.6L516.2 111.6Z" fill="rgba(0,176,80,0.2)"/><path d="M411.0 177.7L417.3 190.1L404.7 190.1Z" fill="rgba(0,176,80,0.2)"/><path d="M407.3 203.1L413.6 215.5L401.0 215.5Z" fill="rgba(0,176,80,0.2)"/><path d="M499.5 140.6L505.8 153.0L493.2 153.0Z" fill="rgba(0,176,80,0.2)"/><path d="M556.5 180.4L562.8 192.8L550.2 192.8Z" fill="rgba(0,176,80,0.2)"/><path d="M475.3 196.8L481.6 209.2L469.0 209.2Z" fill="rgba(0,176,80,0.2)"/><path d="M511.2 224.2L517.5 236.6L504.9 236.6Z" fill="rgba(0,176,80,0.2)"/><path d="M572.8 217.9L579.1 230.3L566.5 230.3Z" fill="rgba(0,176,80,0.2)"/><path d="M360.8 292.9L367.1 305.3L354.4 305.3Z" fill="rgba(0,176,80,0.2)"/><path d="M393.2 256.2L399.6 268.6L386.9 268.6Z" fill="rgba(0,176,80,0.2)"/><path d="M458.9 245.2L465.2 257.6L452.6 257.6Z" fill="rgba(0,176,80,0.2)"/><path d="M465.1 255.4L471.4 267.8L458.8 267.8Z" fill="rgba(0,176,80,0.2)"/><path d="M483.9 275.7L490.2 288.1L477.6 288.1Z" fill="rgba(0,176,80,0.2)"/><path d="M509.7 253.1L516.0 265.5L503.4 265.5Z" fill="rgba(0,176,80,0.2)"/><path d="M494.8 239.0L501.1 251.4L488.5 251.4Z" fill="rgba(0,176,80,0.2)"/><path d="M496.4 354.6L502.7 367.0L490.1 367.0Z" fill="rgba(0,176,80,0.2)"/></g><circle cx="320.8" cy="378.0" r="7.45" fill="#ff0000" stroke="#000" stroke-width="1.75"/><circle cx="410.0" cy="341.2" r="7.45" fill="#ff0000" stroke="#000" stroke-width="1.75"/><circle cx="471.3" cy="288.4" r="7.45" fill="#ff0000" stroke="#000" stroke-width="1.75"/><circle cx="505.9" cy="285.7" r="7.45" fill="#ff0000" stroke="#000" stroke-width="1.75"/><circle cx="541.8" cy="269.6" r="7.45" fill="#ff0000" stroke="#000" stroke-width="1.75"/><circle cx="588.4" cy="198.9" r="7.45" fill="#ff0000" stroke="#000" stroke-width="1.75"/><path d="M233.2 325.9L241.8 334.5L233.2 343.1L224.7 334.5Z" fill="#4a78d2" stroke="#000" stroke-width="1.75" stroke-linejoin="miter"/><path d="M297.2 260.6L305.8 269.2L297.2 277.9L288.6 269.2Z" fill="#4a78d2" stroke="#000" stroke-width="1.75" stroke-linejoin="miter"/><path d="M346.4 277.8L355.0 286.4L346.4 295.0L337.8 286.4Z" fill="#4a78d2" stroke="#000" stroke-width="1.75" stroke-linejoin="miter"/><path d="M373.8 227.9L382.4 236.5L373.8 245.1L365.1 236.5Z" fill="#4a78d2" stroke="#000" stroke-width="1.75" stroke-linejoin="miter"/><path d="M441.1 203.7L449.7 212.3L441.1 220.9L432.5 212.3Z" fill="#4a78d2" stroke="#000" stroke-width="1.75" stroke-linejoin="miter"/><path d="M470.6 161.5L479.2 170.1L470.6 178.7L462.0 170.1Z" fill="#4a78d2" stroke="#000" stroke-width="1.75" stroke-linejoin="miter"/><path d="M507.8 106.2L516.4 114.8L507.8 123.4L499.2 114.8Z" fill="#4a78d2" stroke="#000" stroke-width="1.75" stroke-linejoin="miter"/><rect x="247.4" y="309.4" width="15.2" height="15.2" fill="#ffd966" stroke="#000" stroke-width="1.75"/><rect x="381.5" y="179.0" width="15.2" height="15.2" fill="#ffd966" stroke="#000" stroke-width="1.75"/><rect x="453.4" y="226.7" width="15.2" height="15.2" fill="#ffd966" stroke="#000" stroke-width="1.75"/><rect x="492.1" y="199.6" width="15.2" height="15.2" fill="#ffd966" stroke="#000" stroke-width="1.75"/><rect x="568.9" y="201.5" width="15.2" height="15.2" fill="#ffd966" stroke="#000" stroke-width="1.75"/><path d="M400.5 223.5L407.5 236.9L393.5 236.9Z" fill="#00b853" stroke="#000" stroke-width="1.7"/><path d="M477.6 230.5L484.6 243.9L470.6 243.9Z" fill="#00b853" stroke="#000" stroke-width="1.7"/><path d="M499.7 237.5L506.7 250.9L492.7 250.9Z" fill="#00b853" stroke="#000" stroke-width="1.7"/><path d="M542.8 107.0L549.8 120.4L535.8 120.4Z" fill="#00b853" stroke="#000" stroke-width="1.7"/><rect x="111.9" y="37.8" width="532.9" height="515.2" fill="none" stroke="#000" stroke-width="2"/><rect x="674.2" y="39.8" width="195.19999999999993" height="514.9000000000001" fill="none" stroke="#000" stroke-width="2"/><path d="M869.4 554.7h-8 M111.9 514.6h6 M869.4 517.3h-6 M111.9 492.4h6 M869.4 495.1h-6 M111.9 476.6h6 M869.4 479.3h-6 M111.9 464.4h6 M869.4 467.1h-6 M111.9 454.4h6 M869.4 457.0h-6 M111.9 445.9h6 M869.4 448.6h-6 M111.9 438.6h6 M869.4 441.3h-6 M111.9 432.1h6 M869.4 434.8h-6 M111.9 426.4h8 M869.4 429.0h-8 M111.9 388.3h6 M869.4 391.0h-6 M111.9 366.1h6 M869.4 368.7h-6 M111.9 350.3h6 M869.4 352.9h-6 M111.9 338.1h6 M869.4 340.7h-6 M111.9 328.1h6 M869.4 330.7h-6 M111.9 319.7h6 M869.4 322.2h-6 M111.9 312.3h6 M869.4 314.9h-6 M111.9 305.9h6 M869.4 308.4h-6 M111.9 300.1h8 M869.4 302.6h-8 M111.9 262.1h6 M869.4 264.6h-6 M111.9 239.9h6 M869.4 242.3h-6 M111.9 224.1h6 M869.4 226.6h-6 M111.9 211.9h6 M869.4 214.3h-6 M111.9 201.9h6 M869.4 204.3h-6 M111.9 193.4h6 M869.4 195.8h-6 M111.9 186.1h6 M869.4 188.5h-6 M111.9 179.6h6 M869.4 182.1h-6 M111.9 173.8h8 M869.4 176.3h-8 M111.9 135.8h6 M869.4 138.2h-6 M111.9 113.6h6 M869.4 116.0h-6 M111.9 97.8h6 M869.4 100.2h-6 M111.9 85.6h6 M869.4 87.9h-6 M111.9 75.6h6 M869.4 77.9h-6 M111.9 67.2h6 M869.4 69.5h-6 M111.9 59.8h6 M869.4 62.1h-6 M111.9 53.4h6 M869.4 55.7h-6 M111.9 47.6h8 M869.4 49.9h-8 M112.0 553.0v-7.5 M149.3 553.0v-6 M171.1 553.0v-6 M186.6 553.0v-6 M198.6 553.0v-6 M208.4 553.0v-6 M216.7 553.0v-6 M223.9 553.0v-6 M230.2 553.0v-6 M235.9 553.0v-7.5 M273.2 553.0v-6 M295.0 553.0v-6 M310.5 553.0v-6 M322.5 553.0v-6 M332.3 553.0v-6 M340.6 553.0v-6 M347.8 553.0v-6 M354.1 553.0v-6 M359.8 553.0v-7.5 M397.1 553.0v-6 M418.9 553.0v-6 M434.4 553.0v-6 M446.4 553.0v-6 M456.2 553.0v-6 M464.5 553.0v-6 M471.7 553.0v-6 M478.0 553.0v-6 M483.7 553.0v-7.5 M521.0 553.0v-6 M542.8 553.0v-6 M558.3 553.0v-6 M570.3 553.0v-6 M580.1 553.0v-6 M588.4 553.0v-6 M595.6 553.0v-6 M601.9 553.0v-6 M607.6 553.0v-7.5 M771.7 554.7v-8.2" stroke="#000" stroke-width="2" fill="none"/><g fill="#666"><circle cx="774.4" cy="297.1" r="1.7"/><circle cx="769.2" cy="297.0" r="1.7"/><circle cx="764.1" cy="296.6" r="1.7"/><circle cx="774.4" cy="300.2" r="1.7"/><circle cx="784.6" cy="299.7" r="1.7"/><circle cx="769.2" cy="300.4" r="1.7"/><circle cx="764.1" cy="299.4" r="1.7"/><circle cx="779.5" cy="303.2" r="1.7"/><circle cx="784.6" cy="302.3" r="1.7"/><circle cx="789.8" cy="302.4" r="1.7"/><circle cx="769.2" cy="302.6" r="1.7"/><circle cx="764.1" cy="302.9" r="1.7"/><circle cx="759.0" cy="303.5" r="1.7"/><circle cx="753.8" cy="303.2" r="1.7"/><circle cx="774.4" cy="306.2" r="1.7"/><circle cx="779.5" cy="305.7" r="1.7"/><circle cx="759.0" cy="305.6" r="1.7"/><circle cx="753.8" cy="305.4" r="1.7"/><circle cx="779.5" cy="309.5" r="1.7"/><circle cx="784.6" cy="309.6" r="1.7"/><circle cx="764.1" cy="308.6" r="1.7"/><circle cx="774.4" cy="312.7" r="1.7"/><circle cx="779.5" cy="311.4" r="1.7"/><circle cx="784.6" cy="312.4" r="1.7"/><circle cx="769.2" cy="311.4" r="1.7"/><circle cx="764.1" cy="312.6" r="1.7"/><circle cx="759.0" cy="311.5" r="1.7"/><circle cx="774.4" cy="314.4" r="1.7"/><circle cx="779.5" cy="315.4" r="1.7"/><circle cx="784.6" cy="315.1" r="1.7"/><circle cx="769.2" cy="314.6" r="1.7"/><circle cx="759.0" cy="315.2" r="1.7"/><circle cx="774.4" cy="317.9" r="1.7"/><circle cx="779.5" cy="317.7" r="1.7"/><circle cx="789.8" cy="317.7" r="1.7"/><circle cx="764.1" cy="317.9" r="1.7"/><circle cx="753.8" cy="317.4" r="1.7"/><circle cx="779.5" cy="320.7" r="1.7"/><circle cx="789.8" cy="320.7" r="1.7"/><circle cx="769.2" cy="320.4" r="1.7"/><circle cx="764.1" cy="320.6" r="1.7"/><circle cx="759.0" cy="320.8" r="1.7"/><circle cx="753.8" cy="321.6" r="1.7"/><circle cx="774.4" cy="324.1" r="1.7"/><circle cx="784.6" cy="323.5" r="1.7"/><circle cx="794.9" cy="323.6" r="1.7"/><circle cx="769.2" cy="324.3" r="1.7"/><circle cx="759.0" cy="324.6" r="1.7"/><circle cx="748.7" cy="323.9" r="1.7"/><circle cx="774.4" cy="326.4" r="1.7"/><circle cx="784.6" cy="327.3" r="1.7"/><circle cx="789.8" cy="327.5" r="1.7"/><circle cx="794.9" cy="326.7" r="1.7"/><circle cx="769.2" cy="327.3" r="1.7"/><circle cx="764.1" cy="326.6" r="1.7"/><circle cx="759.0" cy="327.5" r="1.7"/><circle cx="753.8" cy="326.7" r="1.7"/><circle cx="774.4" cy="329.3" r="1.7"/><circle cx="779.5" cy="329.9" r="1.7"/><circle cx="784.6" cy="329.5" r="1.7"/><circle cx="789.8" cy="330.1" r="1.7"/><circle cx="794.9" cy="329.8" r="1.7"/><circle cx="759.0" cy="330.3" r="1.7"/><circle cx="753.8" cy="329.5" r="1.7"/><circle cx="748.7" cy="329.3" r="1.7"/><circle cx="789.8" cy="333.2" r="1.7"/><circle cx="794.9" cy="333.3" r="1.7"/><circle cx="769.2" cy="333.7" r="1.7"/><circle cx="764.1" cy="333.1" r="1.7"/><circle cx="748.7" cy="333.3" r="1.7"/><circle cx="784.6" cy="336.3" r="1.7"/><circle cx="794.9" cy="335.9" r="1.7"/><circle cx="759.0" cy="336.2" r="1.7"/><circle cx="753.8" cy="336.1" r="1.7"/><circle cx="748.7" cy="335.4" r="1.7"/><circle cx="774.4" cy="339.7" r="1.7"/><circle cx="789.8" cy="339.3" r="1.7"/><circle cx="794.9" cy="338.9" r="1.7"/><circle cx="800.0" cy="338.4" r="1.7"/><circle cx="764.1" cy="339.1" r="1.7"/><circle cx="759.0" cy="338.6" r="1.7"/><circle cx="753.8" cy="339.0" r="1.7"/><circle cx="748.7" cy="339.6" r="1.7"/><circle cx="743.6" cy="338.3" r="1.7"/><circle cx="774.4" cy="342.2" r="1.7"/><circle cx="779.5" cy="341.5" r="1.7"/><circle cx="789.8" cy="341.9" r="1.7"/><circle cx="800.0" cy="342.2" r="1.7"/><circle cx="769.2" cy="341.9" r="1.7"/><circle cx="748.7" cy="342.1" r="1.7"/><circle cx="743.6" cy="341.5" r="1.7"/><circle cx="774.4" cy="345.5" r="1.7"/><circle cx="794.9" cy="344.5" r="1.7"/><circle cx="800.0" cy="344.7" r="1.7"/><circle cx="769.2" cy="344.9" r="1.7"/><circle cx="764.1" cy="345.0" r="1.7"/><circle cx="759.0" cy="345.5" r="1.7"/><circle cx="748.7" cy="344.4" r="1.7"/><circle cx="743.6" cy="345.5" r="1.7"/><circle cx="774.4" cy="348.3" r="1.7"/><circle cx="779.5" cy="347.7" r="1.7"/><circle cx="789.8" cy="347.5" r="1.7"/><circle cx="794.9" cy="347.3" r="1.7"/><circle cx="800.0" cy="347.6" r="1.7"/><circle cx="769.2" cy="347.4" r="1.7"/><circle cx="764.1" cy="347.9" r="1.7"/><circle cx="759.0" cy="348.2" r="1.7"/><circle cx="743.6" cy="347.6" r="1.7"/><circle cx="774.4" cy="350.6" r="1.7"/><circle cx="779.5" cy="351.0" r="1.7"/><circle cx="789.8" cy="350.7" r="1.7"/><circle cx="794.9" cy="351.3" r="1.7"/><circle cx="800.0" cy="351.2" r="1.7"/><circle cx="764.1" cy="351.4" r="1.7"/><circle cx="753.8" cy="351.6" r="1.7"/><circle cx="743.6" cy="350.9" r="1.7"/><circle cx="774.4" cy="354.6" r="1.7"/><circle cx="779.5" cy="354.1" r="1.7"/><circle cx="800.0" cy="354.2" r="1.7"/><circle cx="769.2" cy="354.3" r="1.7"/><circle cx="759.0" cy="354.3" r="1.7"/><circle cx="753.8" cy="354.6" r="1.7"/><circle cx="774.4" cy="357.4" r="1.7"/><circle cx="779.5" cy="357.6" r="1.7"/><circle cx="789.8" cy="356.4" r="1.7"/><circle cx="794.9" cy="357.1" r="1.7"/><circle cx="800.0" cy="357.0" r="1.7"/><circle cx="769.2" cy="357.4" r="1.7"/><circle cx="764.1" cy="357.4" r="1.7"/><circle cx="759.0" cy="356.8" r="1.7"/><circle cx="748.7" cy="356.5" r="1.7"/><circle cx="743.6" cy="357.3" r="1.7"/><circle cx="779.5" cy="360.6" r="1.7"/><circle cx="784.6" cy="360.6" r="1.7"/><circle cx="789.8" cy="359.6" r="1.7"/><circle cx="794.9" cy="359.7" r="1.7"/><circle cx="800.0" cy="360.2" r="1.7"/><circle cx="769.2" cy="360.5" r="1.7"/><circle cx="764.1" cy="359.7" r="1.7"/><circle cx="759.0" cy="360.5" r="1.7"/><circle cx="748.7" cy="360.5" r="1.7"/><circle cx="774.4" cy="363.1" r="1.7"/><circle cx="779.5" cy="363.1" r="1.7"/><circle cx="784.6" cy="363.1" r="1.7"/><circle cx="789.8" cy="363.7" r="1.7"/><circle cx="794.9" cy="362.9" r="1.7"/><circle cx="805.1" cy="363.0" r="1.7"/><circle cx="769.2" cy="362.4" r="1.7"/><circle cx="764.1" cy="362.9" r="1.7"/><circle cx="748.7" cy="363.0" r="1.7"/><circle cx="743.6" cy="362.9" r="1.7"/><circle cx="738.5" cy="363.6" r="1.7"/><circle cx="774.4" cy="365.7" r="1.7"/><circle cx="779.5" cy="366.2" r="1.7"/><circle cx="789.8" cy="366.4" r="1.7"/><circle cx="794.9" cy="365.6" r="1.7"/><circle cx="800.0" cy="366.3" r="1.7"/><circle cx="805.1" cy="365.8" r="1.7"/><circle cx="810.3" cy="365.4" r="1.7"/><circle cx="815.4" cy="365.5" r="1.7"/><circle cx="769.2" cy="365.7" r="1.7"/><circle cx="764.1" cy="366.0" r="1.7"/><circle cx="759.0" cy="365.8" r="1.7"/><circle cx="753.8" cy="366.0" r="1.7"/><circle cx="748.7" cy="365.6" r="1.7"/><circle cx="743.6" cy="366.2" r="1.7"/><circle cx="738.5" cy="366.5" r="1.7"/><circle cx="733.3" cy="366.5" r="1.7"/><circle cx="728.2" cy="366.3" r="1.7"/><circle cx="784.6" cy="368.7" r="1.7"/><circle cx="794.9" cy="369.7" r="1.7"/><circle cx="805.1" cy="368.6" r="1.7"/><circle cx="815.4" cy="368.4" r="1.7"/><circle cx="820.5" cy="368.9" r="1.7"/><circle cx="764.1" cy="368.9" r="1.7"/><circle cx="759.0" cy="368.3" r="1.7"/><circle cx="753.8" cy="369.3" r="1.7"/><circle cx="738.5" cy="369.0" r="1.7"/><circle cx="728.2" cy="369.3" r="1.7"/><circle cx="723.1" cy="368.4" r="1.7"/><circle cx="774.4" cy="371.4" r="1.7"/><circle cx="779.5" cy="372.0" r="1.7"/><circle cx="784.6" cy="371.5" r="1.7"/><circle cx="789.8" cy="371.6" r="1.7"/><circle cx="810.3" cy="371.4" r="1.7"/><circle cx="820.5" cy="372.4" r="1.7"/><circle cx="769.2" cy="372.0" r="1.7"/><circle cx="764.1" cy="371.9" r="1.7"/><circle cx="759.0" cy="371.3" r="1.7"/><circle cx="743.6" cy="371.9" r="1.7"/><circle cx="733.3" cy="371.6" r="1.7"/><circle cx="728.2" cy="372.0" r="1.7"/><circle cx="723.1" cy="372.6" r="1.7"/><circle cx="789.8" cy="374.9" r="1.7"/><circle cx="794.9" cy="375.0" r="1.7"/><circle cx="810.3" cy="375.6" r="1.7"/><circle cx="825.7" cy="374.9" r="1.7"/><circle cx="759.0" cy="375.4" r="1.7"/><circle cx="748.7" cy="375.3" r="1.7"/><circle cx="743.6" cy="374.8" r="1.7"/><circle cx="738.5" cy="374.3" r="1.7"/><circle cx="733.3" cy="375.2" r="1.7"/><circle cx="728.2" cy="374.6" r="1.7"/><circle cx="717.9" cy="374.8" r="1.7"/><circle cx="774.4" cy="378.1" r="1.7"/><circle cx="779.5" cy="377.8" r="1.7"/><circle cx="789.8" cy="378.3" r="1.7"/><circle cx="805.1" cy="378.2" r="1.7"/><circle cx="815.4" cy="377.9" r="1.7"/><circle cx="820.5" cy="377.6" r="1.7"/><circle cx="825.7" cy="377.4" r="1.7"/><circle cx="769.2" cy="378.6" r="1.7"/><circle cx="764.1" cy="378.0" r="1.7"/><circle cx="753.8" cy="378.7" r="1.7"/><circle cx="748.7" cy="378.4" r="1.7"/><circle cx="743.6" cy="378.1" r="1.7"/><circle cx="733.3" cy="378.6" r="1.7"/><circle cx="728.2" cy="378.0" r="1.7"/><circle cx="723.1" cy="378.0" r="1.7"/><circle cx="717.9" cy="377.4" r="1.7"/><circle cx="779.5" cy="381.0" r="1.7"/><circle cx="784.6" cy="380.8" r="1.7"/><circle cx="789.8" cy="381.2" r="1.7"/><circle cx="794.9" cy="380.7" r="1.7"/><circle cx="805.1" cy="380.3" r="1.7"/><circle cx="810.3" cy="380.4" r="1.7"/><circle cx="815.4" cy="381.4" r="1.7"/><circle cx="820.5" cy="381.6" r="1.7"/><circle cx="825.7" cy="380.4" r="1.7"/><circle cx="759.0" cy="381.6" r="1.7"/><circle cx="753.8" cy="381.0" r="1.7"/><circle cx="743.6" cy="381.0" r="1.7"/><circle cx="728.2" cy="381.7" r="1.7"/><circle cx="717.9" cy="380.5" r="1.7"/><circle cx="774.4" cy="383.9" r="1.7"/><circle cx="779.5" cy="383.4" r="1.7"/><circle cx="784.6" cy="383.5" r="1.7"/><circle cx="789.8" cy="384.2" r="1.7"/><circle cx="794.9" cy="383.7" r="1.7"/><circle cx="800.0" cy="383.9" r="1.7"/><circle cx="810.3" cy="384.7" r="1.7"/><circle cx="825.7" cy="383.5" r="1.7"/><circle cx="759.0" cy="383.8" r="1.7"/><circle cx="753.8" cy="384.3" r="1.7"/><circle cx="748.7" cy="384.1" r="1.7"/><circle cx="743.6" cy="384.4" r="1.7"/><circle cx="738.5" cy="383.6" r="1.7"/><circle cx="717.9" cy="383.4" r="1.7"/><circle cx="774.4" cy="386.9" r="1.7"/><circle cx="779.5" cy="386.4" r="1.7"/><circle cx="784.6" cy="386.4" r="1.7"/><circle cx="789.8" cy="387.2" r="1.7"/><circle cx="794.9" cy="387.2" r="1.7"/><circle cx="800.0" cy="387.0" r="1.7"/><circle cx="805.1" cy="386.8" r="1.7"/><circle cx="820.5" cy="386.5" r="1.7"/><circle cx="825.7" cy="387.2" r="1.7"/><circle cx="764.1" cy="386.9" r="1.7"/><circle cx="759.0" cy="387.4" r="1.7"/><circle cx="753.8" cy="387.2" r="1.7"/><circle cx="743.6" cy="387.1" r="1.7"/><circle cx="728.2" cy="386.8" r="1.7"/><circle cx="723.1" cy="387.5" r="1.7"/><circle cx="717.9" cy="386.4" r="1.7"/><circle cx="774.4" cy="390.0" r="1.7"/><circle cx="779.5" cy="389.7" r="1.7"/><circle cx="789.8" cy="389.6" r="1.7"/><circle cx="794.9" cy="389.4" r="1.7"/><circle cx="800.0" cy="390.3" r="1.7"/><circle cx="805.1" cy="389.7" r="1.7"/><circle cx="810.3" cy="389.8" r="1.7"/><circle cx="820.5" cy="389.5" r="1.7"/><circle cx="825.7" cy="390.1" r="1.7"/><circle cx="753.8" cy="390.4" r="1.7"/><circle cx="748.7" cy="389.7" r="1.7"/><circle cx="743.6" cy="390.6" r="1.7"/><circle cx="733.3" cy="389.8" r="1.7"/><circle cx="728.2" cy="389.8" r="1.7"/><circle cx="723.1" cy="389.8" r="1.7"/><circle cx="717.9" cy="390.1" r="1.7"/><circle cx="779.5" cy="393.5" r="1.7"/><circle cx="784.6" cy="392.5" r="1.7"/><circle cx="800.0" cy="392.3" r="1.7"/><circle cx="805.1" cy="393.1" r="1.7"/><circle cx="810.3" cy="393.7" r="1.7"/><circle cx="815.4" cy="393.4" r="1.7"/><circle cx="820.5" cy="393.1" r="1.7"/><circle cx="830.8" cy="392.4" r="1.7"/><circle cx="759.0" cy="393.2" r="1.7"/><circle cx="753.8" cy="393.3" r="1.7"/><circle cx="748.7" cy="392.6" r="1.7"/><circle cx="743.6" cy="393.4" r="1.7"/><circle cx="738.5" cy="393.4" r="1.7"/><circle cx="733.3" cy="392.8" r="1.7"/><circle cx="723.1" cy="393.0" r="1.7"/><circle cx="717.9" cy="393.3" r="1.7"/><circle cx="712.8" cy="393.6" r="1.7"/><circle cx="774.4" cy="396.5" r="1.7"/><circle cx="779.5" cy="396.5" r="1.7"/><circle cx="805.1" cy="396.0" r="1.7"/><circle cx="820.5" cy="395.9" r="1.7"/><circle cx="825.7" cy="396.3" r="1.7"/><circle cx="835.9" cy="395.5" r="1.7"/><circle cx="841.1" cy="395.9" r="1.7"/><circle cx="769.2" cy="396.7" r="1.7"/><circle cx="764.1" cy="395.7" r="1.7"/><circle cx="759.0" cy="396.2" r="1.7"/><circle cx="748.7" cy="395.4" r="1.7"/><circle cx="743.6" cy="396.1" r="1.7"/><circle cx="733.3" cy="395.5" r="1.7"/><circle cx="728.2" cy="395.6" r="1.7"/><circle cx="723.1" cy="396.3" r="1.7"/><circle cx="717.9" cy="395.6" r="1.7"/><circle cx="712.8" cy="395.7" r="1.7"/><circle cx="707.7" cy="396.4" r="1.7"/><circle cx="702.5" cy="396.1" r="1.7"/><circle cx="779.5" cy="398.7" r="1.7"/><circle cx="794.9" cy="399.1" r="1.7"/><circle cx="805.1" cy="398.6" r="1.7"/><circle cx="810.3" cy="399.6" r="1.7"/><circle cx="820.5" cy="399.0" r="1.7"/><circle cx="825.7" cy="398.7" r="1.7"/><circle cx="835.9" cy="398.6" r="1.7"/><circle cx="841.1" cy="399.0" r="1.7"/><circle cx="846.2" cy="399.4" r="1.7"/><circle cx="764.1" cy="398.5" r="1.7"/><circle cx="759.0" cy="398.8" r="1.7"/><circle cx="753.8" cy="399.5" r="1.7"/><circle cx="748.7" cy="399.2" r="1.7"/><circle cx="738.5" cy="399.0" r="1.7"/><circle cx="733.3" cy="399.4" r="1.7"/><circle cx="728.2" cy="399.4" r="1.7"/><circle cx="712.8" cy="398.7" r="1.7"/><circle cx="702.5" cy="399.0" r="1.7"/><circle cx="697.4" cy="399.6" r="1.7"/><circle cx="774.4" cy="402.5" r="1.7"/><circle cx="779.5" cy="402.4" r="1.7"/><circle cx="784.6" cy="402.6" r="1.7"/><circle cx="789.8" cy="402.5" r="1.7"/><circle cx="794.9" cy="402.1" r="1.7"/><circle cx="800.0" cy="401.5" r="1.7"/><circle cx="810.3" cy="401.7" r="1.7"/><circle cx="815.4" cy="401.7" r="1.7"/><circle cx="820.5" cy="402.3" r="1.7"/><circle cx="825.7" cy="402.3" r="1.7"/><circle cx="830.8" cy="401.9" r="1.7"/><circle cx="835.9" cy="402.7" r="1.7"/><circle cx="846.2" cy="401.3" r="1.7"/><circle cx="769.2" cy="402.3" r="1.7"/><circle cx="764.1" cy="402.1" r="1.7"/><circle cx="759.0" cy="401.3" r="1.7"/><circle cx="743.6" cy="402.2" r="1.7"/><circle cx="738.5" cy="401.8" r="1.7"/><circle cx="733.3" cy="401.7" r="1.7"/><circle cx="728.2" cy="401.8" r="1.7"/><circle cx="723.1" cy="401.7" r="1.7"/><circle cx="717.9" cy="402.3" r="1.7"/><circle cx="712.8" cy="402.6" r="1.7"/><circle cx="707.7" cy="402.3" r="1.7"/><circle cx="702.5" cy="402.5" r="1.7"/><circle cx="697.4" cy="401.5" r="1.7"/><circle cx="774.4" cy="405.2" r="1.7"/><circle cx="784.6" cy="404.9" r="1.7"/><circle cx="794.9" cy="404.4" r="1.7"/><circle cx="800.0" cy="404.5" r="1.7"/><circle cx="805.1" cy="404.9" r="1.7"/><circle cx="810.3" cy="405.6" r="1.7"/><circle cx="815.4" cy="405.0" r="1.7"/><circle cx="820.5" cy="405.4" r="1.7"/><circle cx="830.8" cy="404.8" r="1.7"/><circle cx="835.9" cy="404.3" r="1.7"/><circle cx="841.1" cy="405.3" r="1.7"/><circle cx="764.1" cy="405.2" r="1.7"/><circle cx="759.0" cy="404.8" r="1.7"/><circle cx="753.8" cy="405.2" r="1.7"/><circle cx="748.7" cy="404.8" r="1.7"/><circle cx="743.6" cy="405.4" r="1.7"/><circle cx="733.3" cy="404.5" r="1.7"/><circle cx="717.9" cy="404.8" r="1.7"/><circle cx="712.8" cy="404.5" r="1.7"/><circle cx="697.4" cy="405.3" r="1.7"/><circle cx="779.5" cy="408.6" r="1.7"/><circle cx="784.6" cy="407.6" r="1.7"/><circle cx="789.8" cy="407.6" r="1.7"/><circle cx="794.9" cy="408.3" r="1.7"/><circle cx="800.0" cy="408.6" r="1.7"/><circle cx="805.1" cy="407.9" r="1.7"/><circle cx="810.3" cy="408.7" r="1.7"/><circle cx="815.4" cy="408.6" r="1.7"/><circle cx="820.5" cy="408.1" r="1.7"/><circle cx="825.7" cy="407.7" r="1.7"/><circle cx="846.2" cy="407.5" r="1.7"/><circle cx="851.3" cy="407.7" r="1.7"/><circle cx="764.1" cy="408.1" r="1.7"/><circle cx="753.8" cy="408.1" r="1.7"/><circle cx="748.7" cy="407.3" r="1.7"/><circle cx="743.6" cy="408.7" r="1.7"/><circle cx="733.3" cy="407.7" r="1.7"/><circle cx="728.2" cy="408.3" r="1.7"/><circle cx="723.1" cy="408.1" r="1.7"/><circle cx="712.8" cy="407.6" r="1.7"/><circle cx="707.7" cy="407.5" r="1.7"/><circle cx="702.5" cy="408.1" r="1.7"/><circle cx="697.4" cy="408.0" r="1.7"/><circle cx="692.3" cy="408.1" r="1.7"/><circle cx="774.4" cy="411.2" r="1.7"/><circle cx="779.5" cy="411.2" r="1.7"/><circle cx="784.6" cy="411.6" r="1.7"/><circle cx="789.8" cy="411.0" r="1.7"/><circle cx="794.9" cy="411.2" r="1.7"/><circle cx="800.0" cy="411.4" r="1.7"/><circle cx="810.3" cy="411.7" r="1.7"/><circle cx="825.7" cy="410.9" r="1.7"/><circle cx="830.8" cy="411.6" r="1.7"/><circle cx="835.9" cy="411.0" r="1.7"/><circle cx="841.1" cy="411.6" r="1.7"/><circle cx="846.2" cy="410.4" r="1.7"/><circle cx="851.3" cy="411.6" r="1.7"/><circle cx="764.1" cy="411.4" r="1.7"/><circle cx="759.0" cy="411.1" r="1.7"/><circle cx="753.8" cy="410.5" r="1.7"/><circle cx="748.7" cy="411.0" r="1.7"/><circle cx="743.6" cy="410.4" r="1.7"/><circle cx="738.5" cy="411.0" r="1.7"/><circle cx="733.3" cy="410.7" r="1.7"/><circle cx="728.2" cy="410.6" r="1.7"/><circle cx="723.1" cy="411.6" r="1.7"/><circle cx="712.8" cy="411.5" r="1.7"/><circle cx="707.7" cy="411.4" r="1.7"/><circle cx="702.5" cy="411.3" r="1.7"/><circle cx="697.4" cy="411.6" r="1.7"/><circle cx="692.3" cy="411.4" r="1.7"/><circle cx="774.4" cy="414.1" r="1.7"/><circle cx="784.6" cy="413.6" r="1.7"/><circle cx="789.8" cy="413.8" r="1.7"/><circle cx="794.9" cy="414.6" r="1.7"/><circle cx="805.1" cy="413.8" r="1.7"/><circle cx="810.3" cy="413.4" r="1.7"/><circle cx="815.4" cy="414.6" r="1.7"/><circle cx="820.5" cy="414.0" r="1.7"/><circle cx="835.9" cy="413.6" r="1.7"/><circle cx="841.1" cy="414.6" r="1.7"/><circle cx="846.2" cy="413.6" r="1.7"/><circle cx="764.1" cy="414.0" r="1.7"/><circle cx="759.0" cy="414.5" r="1.7"/><circle cx="748.7" cy="414.2" r="1.7"/><circle cx="743.6" cy="414.5" r="1.7"/><circle cx="738.5" cy="413.4" r="1.7"/><circle cx="728.2" cy="414.6" r="1.7"/><circle cx="712.8" cy="414.3" r="1.7"/><circle cx="702.5" cy="413.4" r="1.7"/><circle cx="697.4" cy="413.7" r="1.7"/><circle cx="779.5" cy="416.6" r="1.7"/><circle cx="784.6" cy="417.2" r="1.7"/><circle cx="794.9" cy="417.2" r="1.7"/><circle cx="805.1" cy="416.6" r="1.7"/><circle cx="810.3" cy="417.6" r="1.7"/><circle cx="815.4" cy="416.7" r="1.7"/><circle cx="820.5" cy="416.4" r="1.7"/><circle cx="830.8" cy="417.0" r="1.7"/><circle cx="835.9" cy="416.4" r="1.7"/><circle cx="841.1" cy="416.7" r="1.7"/><circle cx="769.2" cy="417.4" r="1.7"/><circle cx="764.1" cy="416.7" r="1.7"/><circle cx="753.8" cy="416.7" r="1.7"/><circle cx="748.7" cy="416.6" r="1.7"/><circle cx="733.3" cy="416.9" r="1.7"/><circle cx="723.1" cy="417.6" r="1.7"/><circle cx="717.9" cy="416.6" r="1.7"/><circle cx="712.8" cy="417.2" r="1.7"/><circle cx="707.7" cy="417.2" r="1.7"/><circle cx="702.5" cy="417.0" r="1.7"/><circle cx="774.4" cy="420.5" r="1.7"/><circle cx="779.5" cy="420.0" r="1.7"/><circle cx="789.8" cy="420.4" r="1.7"/><circle cx="794.9" cy="420.2" r="1.7"/><circle cx="800.0" cy="419.9" r="1.7"/><circle cx="820.5" cy="420.0" r="1.7"/><circle cx="825.7" cy="420.1" r="1.7"/><circle cx="830.8" cy="419.3" r="1.7"/><circle cx="835.9" cy="420.3" r="1.7"/><circle cx="769.2" cy="420.5" r="1.7"/><circle cx="764.1" cy="419.5" r="1.7"/><circle cx="759.0" cy="420.0" r="1.7"/><circle cx="753.8" cy="419.9" r="1.7"/><circle cx="748.7" cy="420.4" r="1.7"/><circle cx="743.6" cy="420.6" r="1.7"/><circle cx="738.5" cy="420.1" r="1.7"/><circle cx="728.2" cy="419.5" r="1.7"/><circle cx="723.1" cy="419.4" r="1.7"/><circle cx="717.9" cy="420.2" r="1.7"/><circle cx="712.8" cy="419.7" r="1.7"/><circle cx="707.7" cy="419.4" r="1.7"/><circle cx="779.5" cy="422.7" r="1.7"/><circle cx="784.6" cy="423.3" r="1.7"/><circle cx="800.0" cy="422.9" r="1.7"/><circle cx="805.1" cy="422.6" r="1.7"/><circle cx="815.4" cy="423.0" r="1.7"/><circle cx="830.8" cy="422.9" r="1.7"/><circle cx="764.1" cy="422.6" r="1.7"/><circle cx="753.8" cy="422.9" r="1.7"/><circle cx="748.7" cy="422.9" r="1.7"/><circle cx="743.6" cy="422.3" r="1.7"/><circle cx="723.1" cy="422.7" r="1.7"/><circle cx="717.9" cy="422.6" r="1.7"/><circle cx="712.8" cy="423.6" r="1.7"/><circle cx="774.4" cy="425.8" r="1.7"/><circle cx="784.6" cy="425.4" r="1.7"/><circle cx="789.8" cy="426.2" r="1.7"/><circle cx="794.9" cy="425.8" r="1.7"/><circle cx="800.0" cy="426.5" r="1.7"/><circle cx="805.1" cy="426.5" r="1.7"/><circle cx="810.3" cy="425.9" r="1.7"/><circle cx="820.5" cy="426.4" r="1.7"/><circle cx="825.7" cy="425.8" r="1.7"/><circle cx="830.8" cy="426.1" r="1.7"/><circle cx="835.9" cy="425.6" r="1.7"/><circle cx="769.2" cy="426.0" r="1.7"/><circle cx="764.1" cy="425.9" r="1.7"/><circle cx="753.8" cy="426.5" r="1.7"/><circle cx="748.7" cy="425.8" r="1.7"/><circle cx="743.6" cy="426.3" r="1.7"/><circle cx="738.5" cy="425.7" r="1.7"/><circle cx="733.3" cy="425.6" r="1.7"/><circle cx="728.2" cy="425.9" r="1.7"/><circle cx="712.8" cy="425.8" r="1.7"/><circle cx="707.7" cy="426.6" r="1.7"/><circle cx="774.4" cy="429.4" r="1.7"/><circle cx="789.8" cy="428.8" r="1.7"/><circle cx="794.9" cy="428.4" r="1.7"/><circle cx="805.1" cy="429.4" r="1.7"/><circle cx="810.3" cy="428.4" r="1.7"/><circle cx="815.4" cy="428.6" r="1.7"/><circle cx="820.5" cy="428.5" r="1.7"/><circle cx="825.7" cy="428.3" r="1.7"/><circle cx="830.8" cy="428.9" r="1.7"/><circle cx="835.9" cy="428.5" r="1.7"/><circle cx="764.1" cy="429.3" r="1.7"/><circle cx="759.0" cy="428.5" r="1.7"/><circle cx="753.8" cy="428.7" r="1.7"/><circle cx="743.6" cy="428.8" r="1.7"/><circle cx="733.3" cy="428.7" r="1.7"/><circle cx="728.2" cy="428.6" r="1.7"/><circle cx="723.1" cy="428.3" r="1.7"/><circle cx="717.9" cy="429.1" r="1.7"/><circle cx="774.4" cy="432.2" r="1.7"/><circle cx="784.6" cy="432.3" r="1.7"/><circle cx="789.8" cy="432.6" r="1.7"/><circle cx="800.0" cy="432.2" r="1.7"/><circle cx="805.1" cy="431.9" r="1.7"/><circle cx="810.3" cy="431.4" r="1.7"/><circle cx="815.4" cy="431.8" r="1.7"/><circle cx="769.2" cy="431.7" r="1.7"/><circle cx="764.1" cy="431.9" r="1.7"/><circle cx="759.0" cy="431.5" r="1.7"/><circle cx="753.8" cy="431.6" r="1.7"/><circle cx="748.7" cy="431.8" r="1.7"/><circle cx="743.6" cy="431.5" r="1.7"/><circle cx="738.5" cy="432.3" r="1.7"/><circle cx="733.3" cy="432.3" r="1.7"/><circle cx="728.2" cy="431.8" r="1.7"/><circle cx="774.4" cy="434.4" r="1.7"/><circle cx="779.5" cy="434.4" r="1.7"/><circle cx="784.6" cy="435.1" r="1.7"/><circle cx="789.8" cy="434.8" r="1.7"/><circle cx="794.9" cy="434.3" r="1.7"/><circle cx="800.0" cy="435.5" r="1.7"/><circle cx="805.1" cy="434.7" r="1.7"/><circle cx="810.3" cy="434.6" r="1.7"/><circle cx="815.4" cy="435.2" r="1.7"/><circle cx="764.1" cy="435.1" r="1.7"/><circle cx="748.7" cy="435.2" r="1.7"/><circle cx="743.6" cy="434.9" r="1.7"/><circle cx="738.5" cy="435.5" r="1.7"/><circle cx="728.2" cy="435.6" r="1.7"/><circle cx="774.4" cy="437.5" r="1.7"/><circle cx="779.5" cy="437.7" r="1.7"/><circle cx="784.6" cy="438.7" r="1.7"/><circle cx="789.8" cy="437.6" r="1.7"/><circle cx="794.9" cy="438.3" r="1.7"/><circle cx="800.0" cy="437.3" r="1.7"/><circle cx="805.1" cy="437.9" r="1.7"/><circle cx="810.3" cy="438.0" r="1.7"/><circle cx="815.4" cy="438.1" r="1.7"/><circle cx="769.2" cy="438.1" r="1.7"/><circle cx="753.8" cy="437.8" r="1.7"/><circle cx="743.6" cy="438.3" r="1.7"/><circle cx="738.5" cy="438.3" r="1.7"/><circle cx="728.2" cy="437.5" r="1.7"/><circle cx="774.4" cy="441.0" r="1.7"/><circle cx="779.5" cy="440.8" r="1.7"/><circle cx="784.6" cy="441.3" r="1.7"/><circle cx="789.8" cy="440.6" r="1.7"/><circle cx="794.9" cy="440.8" r="1.7"/><circle cx="800.0" cy="441.0" r="1.7"/><circle cx="805.1" cy="440.4" r="1.7"/><circle cx="810.3" cy="440.4" r="1.7"/><circle cx="815.4" cy="440.5" r="1.7"/><circle cx="769.2" cy="441.4" r="1.7"/><circle cx="764.1" cy="440.5" r="1.7"/><circle cx="748.7" cy="440.7" r="1.7"/><circle cx="743.6" cy="441.4" r="1.7"/><circle cx="738.5" cy="441.3" r="1.7"/><circle cx="733.3" cy="441.3" r="1.7"/><circle cx="728.2" cy="440.8" r="1.7"/><circle cx="789.8" cy="443.9" r="1.7"/><circle cx="800.0" cy="444.5" r="1.7"/><circle cx="810.3" cy="443.8" r="1.7"/><circle cx="815.4" cy="443.6" r="1.7"/><circle cx="820.5" cy="443.3" r="1.7"/><circle cx="769.2" cy="444.6" r="1.7"/><circle cx="759.0" cy="444.3" r="1.7"/><circle cx="753.8" cy="444.2" r="1.7"/><circle cx="748.7" cy="444.6" r="1.7"/><circle cx="738.5" cy="444.3" r="1.7"/><circle cx="733.3" cy="443.4" r="1.7"/><circle cx="728.2" cy="444.3" r="1.7"/><circle cx="774.4" cy="446.8" r="1.7"/><circle cx="779.5" cy="447.1" r="1.7"/><circle cx="784.6" cy="446.8" r="1.7"/><circle cx="789.8" cy="447.4" r="1.7"/><circle cx="800.0" cy="446.8" r="1.7"/><circle cx="805.1" cy="447.4" r="1.7"/><circle cx="815.4" cy="447.3" r="1.7"/><circle cx="820.5" cy="447.4" r="1.7"/><circle cx="825.7" cy="446.5" r="1.7"/><circle cx="769.2" cy="447.6" r="1.7"/><circle cx="764.1" cy="447.0" r="1.7"/><circle cx="759.0" cy="446.8" r="1.7"/><circle cx="753.8" cy="447.1" r="1.7"/><circle cx="748.7" cy="447.2" r="1.7"/><circle cx="743.6" cy="446.6" r="1.7"/><circle cx="738.5" cy="446.8" r="1.7"/><circle cx="733.3" cy="446.4" r="1.7"/><circle cx="728.2" cy="447.5" r="1.7"/><circle cx="723.1" cy="446.4" r="1.7"/><circle cx="717.9" cy="447.0" r="1.7"/><circle cx="779.5" cy="450.5" r="1.7"/><circle cx="784.6" cy="449.9" r="1.7"/><circle cx="794.9" cy="449.4" r="1.7"/><circle cx="800.0" cy="450.2" r="1.7"/><circle cx="805.1" cy="449.7" r="1.7"/><circle cx="825.7" cy="450.5" r="1.7"/><circle cx="830.8" cy="449.5" r="1.7"/><circle cx="769.2" cy="449.5" r="1.7"/><circle cx="764.1" cy="449.4" r="1.7"/><circle cx="759.0" cy="450.4" r="1.7"/><circle cx="753.8" cy="450.0" r="1.7"/><circle cx="748.7" cy="449.6" r="1.7"/><circle cx="738.5" cy="450.0" r="1.7"/><circle cx="717.9" cy="450.4" r="1.7"/><circle cx="712.8" cy="450.4" r="1.7"/><circle cx="779.5" cy="453.6" r="1.7"/><circle cx="784.6" cy="453.3" r="1.7"/><circle cx="789.8" cy="453.6" r="1.7"/><circle cx="794.9" cy="453.1" r="1.7"/><circle cx="800.0" cy="452.8" r="1.7"/><circle cx="805.1" cy="453.2" r="1.7"/><circle cx="815.4" cy="453.2" r="1.7"/><circle cx="820.5" cy="452.7" r="1.7"/><circle cx="769.2" cy="452.4" r="1.7"/><circle cx="764.1" cy="453.3" r="1.7"/><circle cx="759.0" cy="453.3" r="1.7"/><circle cx="753.8" cy="453.3" r="1.7"/><circle cx="748.7" cy="452.4" r="1.7"/><circle cx="743.6" cy="452.8" r="1.7"/><circle cx="738.5" cy="452.3" r="1.7"/><circle cx="733.3" cy="452.9" r="1.7"/><circle cx="728.2" cy="453.1" r="1.7"/><circle cx="717.9" cy="453.5" r="1.7"/><circle cx="774.4" cy="456.4" r="1.7"/><circle cx="779.5" cy="456.7" r="1.7"/><circle cx="784.6" cy="456.6" r="1.7"/><circle cx="789.8" cy="455.9" r="1.7"/><circle cx="800.0" cy="455.7" r="1.7"/><circle cx="769.2" cy="456.6" r="1.7"/><circle cx="764.1" cy="455.6" r="1.7"/><circle cx="759.0" cy="456.7" r="1.7"/><circle cx="753.8" cy="456.2" r="1.7"/><circle cx="748.7" cy="456.2" r="1.7"/><circle cx="743.6" cy="456.2" r="1.7"/><circle cx="784.6" cy="459.0" r="1.7"/><circle cx="769.2" cy="458.5" r="1.7"/><circle cx="759.0" cy="458.9" r="1.7"/><circle cx="774.4" cy="461.9" r="1.7"/><circle cx="779.5" cy="461.6" r="1.7"/><circle cx="769.2" cy="462.1" r="1.7"/><circle cx="764.1" cy="461.3" r="1.7"/><circle cx="771.6" cy="184.2" r="1.7"/><circle cx="771.6" cy="193.5" r="1.7"/><circle cx="771.6" cy="201.1" r="1.7"/><circle cx="766.5" cy="243.7" r="1.7"/><circle cx="771.6" cy="244.7" r="1.7"/><circle cx="776.9" cy="243.3" r="1.7"/><circle cx="771.6" cy="255.5" r="1.7"/><circle cx="771.6" cy="259.0" r="1.7"/><circle cx="769.2" cy="263.2" r="1.7"/><circle cx="774.4" cy="263.6" r="1.7"/><circle cx="769.2" cy="266.4" r="1.7"/><circle cx="771.6" cy="270.0" r="1.7"/><circle cx="774.4" cy="277.8" r="1.7"/><circle cx="769.2" cy="279.8" r="1.7"/><circle cx="774.4" cy="282.9" r="1.7"/><circle cx="769.2" cy="284.0" r="1.7"/><circle cx="779.5" cy="282.9" r="1.7"/><circle cx="764.1" cy="287.0" r="1.7"/><circle cx="769.2" cy="288.0" r="1.7"/><circle cx="774.4" cy="288.4" r="1.7"/><circle cx="779.5" cy="287.0" r="1.7"/><circle cx="769.2" cy="292.0" r="1.7"/><circle cx="774.4" cy="292.5" r="1.7"/><circle cx="764.2" cy="468.4" r="1.7"/><circle cx="764.2" cy="472.7" r="1.7"/><circle cx="769.3" cy="467.7" r="1.7"/><circle cx="769.3" cy="471.6" r="1.7"/><circle cx="774.4" cy="466.9" r="1.7"/><circle cx="779.5" cy="472.0" r="1.7"/><circle cx="764.2" cy="479.4" r="1.7"/><circle cx="769.3" cy="480.5" r="1.7"/><circle cx="774.4" cy="479.0" r="1.7"/><circle cx="774.4" cy="483.7" r="1.7"/><circle cx="769.3" cy="486.8" r="1.7"/></g><line x1="672.9" y1="349.8" x2="869.4" y2="349.8" stroke="#000" stroke-width="3.2" stroke-dasharray="8.75 7.65"/><line x1="672.9" y1="470.2" x2="869.4" y2="470.2" stroke="#cacaca" stroke-width="3.2" stroke-dasharray="8.75 7.65"/><path d="M690.4 400.8H853.2M731.3 370.2H811.6M731.3 425.2H811.6M771.6 370.2V425.2" stroke="#000" stroke-width="2.2" fill="none"/><circle cx="143.1" cy="64.8" r="9.85" fill="#ff0000" stroke="#000" stroke-width="2.0"/><circle cx="167.3" cy="64.8" r="6.3" fill="#ff9096"/><path d="M142.9 88.4L153.4 98.9L142.9 109.4L132.4 98.9Z" fill="#5b9bd5" stroke="#000" stroke-width="2.0" stroke-linejoin="miter"/><path d="M167.5 91.9L174.5 98.9L167.5 105.9L160.5 98.9Z" fill="#cfe0f2"/><rect x="134.6" y="123.6" width="17.2" height="17.2" fill="#ffd966" stroke="#000" stroke-width="2.0"/><rect x="160.8" y="125.6" width="13.2" height="13.2" fill="#ffe8a8"/><path d="M142.7 155.6L152.6 177.3L132.8 177.3Z" fill="#00b050" stroke="#000" stroke-width="2.0"/><path d="M167.5 158L174 175L160.8 175Z" fill="#92d9b0"/><text x="182.3" y="72.7" font-family='"Liberation Serif", serif' font-size="23.4" text-anchor="start" ><tspan font-style="italic">P. falciparum</tspan> (n=136)</text><text x="182.3" y="106.8" font-family='"Liberation Serif", serif' font-size="23.4" text-anchor="start" ><tspan font-style="italic">P. vivax</tspan> (n=104)</text><text x="182.3" y="139.8" font-family='"Liberation Serif", serif' font-size="23.4" text-anchor="start" ><tspan font-style="italic">P. f.</tspan> + gam (n=57)</text><text x="178.6" y="173.2" font-family='"Liberation Serif", serif' font-size="23.4" text-anchor="start" ><tspan font-style="italic">P. f.</tspan> + <tspan font-style="italic">P.v</tspan> (n=20)</text><text x="9.3" y="26.6" font-family='"Liberation Serif", serif' font-size="43" text-anchor="start" >a</text><text x="654.4" y="29.6" font-family='"Liberation Serif", serif' font-size="41.5" text-anchor="start" >b</text><text transform="scale(0.97,1)" x="54.58" y="58.5" font-family='"Liberation Serif", serif' font-size="28.8">10</text><text transform="scale(0.97,1)" x="82.60" y="49.8" font-family='"Liberation Serif", serif' font-size="19">3</text><text transform="scale(0.97,1)" x="54.58" y="183.5" font-family='"Liberation Serif", serif' font-size="28.8">10</text><text transform="scale(0.97,1)" x="82.67" y="174.8" font-family='"Liberation Serif", serif' font-size="19">2</text><text transform="scale(0.97,1)" x="54.58" y="308.2" font-family='"Liberation Serif", serif' font-size="28.8">10</text><text transform="scale(0.97,1)" x="81.84" y="299.5" font-family='"Liberation Serif", serif' font-size="19">1</text><text transform="scale(0.97,1)" x="54.58" y="436.1" font-family='"Liberation Serif", serif' font-size="28.8">10</text><text transform="scale(0.97,1)" x="82.78" y="427.40000000000003" font-family='"Liberation Serif", serif' font-size="19">0</text><text transform="scale(0.97,1)" x="54.58" y="564.0" font-family='"Liberation Serif", serif' font-size="28.8">10</text><text transform="scale(0.97,1)" x="81.77" y="555.3" font-family='"Liberation Serif", serif' font-size="19">-1</text><text transform="scale(0.955,1)" x="93.05" y="600.9" font-family='"Liberation Serif", serif' font-size="28.4">10</text><text transform="scale(0.955,1)" x="121.52" y="592.5" font-family='"Liberation Serif", serif' font-size="19">1</text><text transform="scale(0.955,1)" x="225.36" y="600.9" font-family='"Liberation Serif", serif' font-size="28.4">10</text><text transform="scale(0.955,1)" x="254.66" y="592.5" font-family='"Liberation Serif", serif' font-size="19">2</text><text transform="scale(0.955,1)" x="357.08" y="600.9" font-family='"Liberation Serif", serif' font-size="28.4">10</text><text transform="scale(0.955,1)" x="386.32" y="592.5" font-family='"Liberation Serif", serif' font-size="19">3</text><text transform="scale(0.955,1)" x="488.39" y="600.9" font-family='"Liberation Serif", serif' font-size="28.4">10</text><text transform="scale(0.955,1)" x="518.16" y="592.5" font-family='"Liberation Serif", serif' font-size="19">4</text><text transform="scale(0.955,1)" x="618.86" y="600.9" font-family='"Liberation Serif", serif' font-size="28.4">10</text><text transform="scale(0.955,1)" x="647.90" y="592.5" font-family='"Liberation Serif", serif' font-size="19">5</text><text transform="scale(0.945,1)" x="939.19" y="60.0" font-family='"Liberation Serif", serif' font-size="26.1">10</text><text transform="scale(0.945,1)" x="966.91" y="52.6" font-family='"Liberation Serif", serif' font-size="17.0">3</text><text transform="scale(0.945,1)" x="939.19" y="186.6" font-family='"Liberation Serif", serif' font-size="26.1">10</text><text transform="scale(0.945,1)" x="966.98" y="179.2" font-family='"Liberation Serif", serif' font-size="17.0">2</text><text transform="scale(0.945,1)" x="939.19" y="312.8" font-family='"Liberation Serif", serif' font-size="26.1">10</text><text transform="scale(0.945,1)" x="966.23" y="305.40000000000003" font-family='"Liberation Serif", serif' font-size="17.0">1</text><text transform="scale(0.945,1)" x="939.19" y="439.8" font-family='"Liberation Serif", serif' font-size="26.1">10</text><text transform="scale(0.945,1)" x="967.08" y="432.40000000000003" font-family='"Liberation Serif", serif' font-size="17.0">0</text><text transform="scale(0.945,1)" x="939.19" y="564.6" font-family='"Liberation Serif", serif' font-size="26.1">10</text><text transform="scale(0.945,1)" x="964.87" y="557.2" font-family='"Liberation Serif", serif' font-size="17.0">-1</text><text transform="translate(20.6,400.6) rotate(-90) scale(0.953,1)" x="-0.8" y="0" font-family='"Liberation Serif", serif' font-size="29.3">MO signal (mV/V)</text><text transform="translate(945.6,208.1) rotate(90) scale(0.975,1)" x="-0.75" y="0" font-family='"Liberation Serif", serif' font-size="25.4">MO signal (mV/V)</text><text transform="translate(255.1,633.4) scale(0.984,1)" x="-0.5" y="0" font-family='"Liberation Serif", serif' font-size="28.4">Parasite density (μL<tspan font-size="18.5" dy="-11">-1</tspan><tspan dy="11">)</tspan></text><text x="686.5" y="69.75" font-family='"Liberation Serif", serif' font-size="23.7" text-anchor="start" >n=627</text><text transform="translate(710.1,598.1) scale(0.96,1)" x="-0.2" y="0" font-family='"Liberation Serif", serif' font-size="25.3">LM negative</text></svg></body></html>
